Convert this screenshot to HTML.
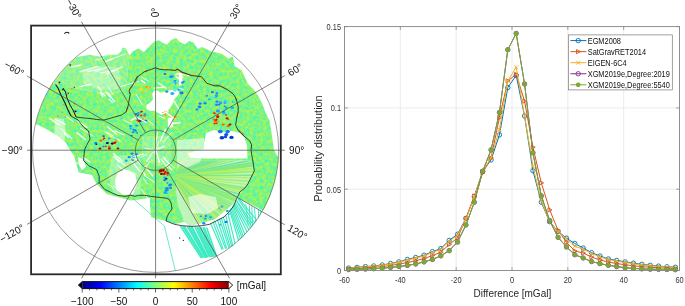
<!DOCTYPE html><html><head><meta charset="utf-8"><style>html,body{margin:0;padding:0;background:#fff;}svg{display:block;font-family:"Liberation Sans",sans-serif;filter:blur(0.3px);}</style></head><body>
<svg width="685" height="306" viewBox="0 0 685 306">
<rect width="685" height="306" fill="#fff"/>
<defs>
<filter id="nz" x="0" y="0" width="100%" height="100%" color-interpolation-filters="sRGB"><feTurbulence type="fractalNoise" baseFrequency="0.3" numOctaves="2" seed="5"/><feColorMatrix type="matrix" values="1 0 0 0 0  1 0 0 0 0  1 0 0 0 0  0 0 0 0 1"/><feComponentTransfer><feFuncR type="table" tableValues="0.100 0.120 0.140 0.160 0.180 0.200 0.220 0.240 0.260 0.280 0.300 0.320 0.340 0.360 0.380 0.400 0.420 0.440 0.460 0.480 0.500 0.520 0.540 0.560 0.580 0.600 0.620 0.640 0.660 0.680 0.700 0.720 0.740 0.760 0.780 0.800 0.820 0.840 0.860 0.880 0.900"/><feFuncG type="table" tableValues="0.960 0.960 0.960 0.960 0.960 0.960 0.960 0.960 0.960 0.960 0.960 0.960 0.960 0.960 0.960 0.960 0.960 0.960 0.960 0.960 0.960 0.960 0.960 0.960 0.960 0.960 0.960 0.960 0.960 0.960 0.960 0.960 0.960 0.960 0.960 0.960 0.960 0.960 0.960 0.960 0.960"/><feFuncB type="table" tableValues="0.900 0.880 0.860 0.840 0.820 0.800 0.780 0.760 0.740 0.720 0.700 0.680 0.660 0.640 0.620 0.600 0.580 0.560 0.540 0.520 0.500 0.480 0.460 0.440 0.420 0.400 0.380 0.360 0.340 0.320 0.300 0.280 0.260 0.240 0.220 0.200 0.180 0.160 0.140 0.120 0.100"/></feComponentTransfer></filter>
<clipPath id="circ"><ellipse cx="155.6" cy="150.3" rx="123.6" ry="122.5"/></clipPath>
<clipPath id="dat"><path d="M53.2,83.5 62.0,84.0 70.0,87.0 82.0,90.0 95.0,92.0 110.0,94.0 124.0,91.0 127.0,80.0 128.0,68.0 129.5,55.6 133.1,51.1 138.5,48.4 143.9,52.0 149.3,46.6 153.8,42.1 158.7,40.2 163.0,43.0 167.4,44.6 171.0,40.0 176.0,38.0 180.0,42.0 184.8,44.6 189.0,41.0 193.5,42.4 197.8,48.9 202.0,47.0 206.5,48.9 210.6,51.2 216.5,52.6 222.4,54.1 228.2,58.5 233.0,56.5 234.5,66.0 237.0,67.4 241.5,70.3 244.4,76.2 247.8,83.7 254.3,90.2 258.7,96.7 263.0,105.4 265.2,112.0 269.6,120.7 271.7,133.7 273.9,150.0 278.8,158.0 278.3,163.5 277.6,169.0 276.6,174.5 275.5,179.9 274.0,185.2 272.3,190.5 270.4,195.7 268.3,200.8 265.9,205.8 263.3,210.7 238.4,198.3 239.0,195.0 247.8,184.0 254.0,171.0 253.0,163.0 250.0,160.5 187.0,160.5 178.0,163.0 176.0,175.0 176.0,190.0 178.0,205.0 182.0,215.0 184.0,222.0 175.0,224.0 169.6,222.0 160.0,219.5 151.0,217.0 150.0,205.0 150.0,198.0 144.0,198.7 131.0,200.5 118.0,197.0 107.1,194.3 96.2,183.5 91.9,174.8 78.8,172.6 76.0,163.0 74.0,156.0 70.0,150.0 66.0,143.0 58.5,136.5 48.0,130.0 39.2,125.5 34.6,123.7 35.6,123.9 36.6,119.6 37.8,115.3 39.2,111.1 40.7,106.9 42.3,102.8 44.1,98.7 46.1,94.7 48.2,90.8 50.4,87.0 52.7,83.2Z M153.8,91.1 156.3,90.3 161.2,92.7 166.1,91.1 170.1,90.3 174.2,89.4 178.3,90.3 179.1,93.5 176.7,96.8 174.2,99.3 172.6,104.2 169.3,109.1 166.1,112.3 162.0,114.8 157.9,113.1 154.6,110.7 149.7,110.7 146.4,109.1 146.4,105.0 150.5,102.5 153.0,99.3 152.2,94.3Z M167.7,118.0 172.6,117.5 173.0,127.0 168.0,128.0Z M179.0,73.0 182.0,73.0 182.5,84.0 179.0,86.0Z M206.0,133.0 214.0,130.0 222.0,132.0 232.0,131.0 240.0,133.0 244.0,137.0 247.0,145.0 247.5,158.5 205.0,158.5 190.0,157.5 188.0,153.0 204.0,149.0 204.0,145.0Z M118.0,172.0 127.0,170.0 135.0,173.0 137.0,184.0 133.0,194.0 123.0,195.0 116.0,189.0 115.0,180.0Z M78.0,157.0 83.0,159.0 86.0,167.0 82.0,170.0 79.0,165.0Z" clip-rule="evenodd"/></clipPath>
<clipPath id="stk"><path d="M53.2,83.5 55.7,79.8 58.3,76.3 61.0,72.8 63.9,69.4 66.9,66.1 70.0,63.0 77.0,57.0 89.5,54.7 99.2,56.6 109.0,53.7 117.0,54.7 121.5,51.1 122.3,47.5 126.0,48.4 129.5,55.6 128.0,68.0 127.0,80.0 124.0,91.0 110.0,94.0 95.0,92.0 82.0,90.0 70.0,87.0 62.0,84.0Z"/></clipPath>
<clipPath id="fan"><path d="M178.0,163.0 187.0,160.5 250.0,160.5 253.0,163.0 254.0,171.0 247.8,184.0 239.0,195.0 233.0,204.0 226.0,210.0 215.0,219.0 202.0,223.0 190.0,226.0 184.0,222.0 182.0,215.0 178.0,205.0 176.0,190.0 176.0,175.0Z"/></clipPath>
</defs>
<g clip-path="url(#circ)">
<rect x="31" y="25" width="250" height="250" fill="#8af08a" filter="url(#nz)" clip-path="url(#dat)"/>
<rect x="31" y="25" width="250" height="250" fill="#8af08a" filter="url(#nz)" clip-path="url(#stk)" opacity="0.85"/>
<g clip-path="url(#fan)">
<rect x="170" y="145" width="90" height="85" fill="#94ee8a" opacity="0.6"/>
<line x1="172" y1="176" x2="262.0" y2="68.8" stroke="#84ec84" stroke-width="1.7"/>
<line x1="172" y1="176" x2="267.1" y2="73.2" stroke="#b4f060" stroke-width="2.1"/>
<line x1="172" y1="176" x2="271.0" y2="77.0" stroke="#98ee70" stroke-width="1.9"/>
<line x1="172" y1="176" x2="275.5" y2="81.7" stroke="#84ec84" stroke-width="1.8"/>
<line x1="172" y1="176" x2="279.8" y2="86.6" stroke="#6fe2a8" stroke-width="1.3"/>
<line x1="172" y1="176" x2="282.3" y2="89.7" stroke="#7eea82" stroke-width="1.8"/>
<line x1="172" y1="176" x2="285.7" y2="94.3" stroke="#b4f060" stroke-width="1.7"/>
<line x1="172" y1="176" x2="289.1" y2="99.3" stroke="#98ee70" stroke-width="1.9"/>
<line x1="172" y1="176" x2="292.2" y2="104.2" stroke="#7eea82" stroke-width="2.2"/>
<line x1="172" y1="176" x2="294.0" y2="107.4" stroke="#98ee70" stroke-width="1.4"/>
<line x1="172" y1="176" x2="296.8" y2="112.5" stroke="#6fe2a8" stroke-width="2.1"/>
<line x1="172" y1="176" x2="299.0" y2="117.1" stroke="#84ec84" stroke-width="2.2"/>
<line x1="172" y1="176" x2="300.8" y2="121.1" stroke="#7eea82" stroke-width="1.6"/>
<line x1="172" y1="176" x2="303.0" y2="126.6" stroke="#6fe2a8" stroke-width="1.7"/>
<line x1="172" y1="176" x2="304.7" y2="131.4" stroke="#7eea82" stroke-width="1.9"/>
<line x1="172" y1="176" x2="306.5" y2="137.3" stroke="#98ee70" stroke-width="1.6"/>
<line x1="172" y1="176" x2="307.9" y2="142.5" stroke="#84ec84" stroke-width="1.2"/>
<line x1="172" y1="176" x2="309.3" y2="148.8" stroke="#6fe2a8" stroke-width="1.7"/>
<line x1="172" y1="176" x2="310.2" y2="153.6" stroke="#7eea82" stroke-width="2.3"/>
<line x1="172" y1="176" x2="310.8" y2="157.8" stroke="#7eea82" stroke-width="2.3"/>
<line x1="172" y1="176" x2="311.4" y2="163.1" stroke="#b4f060" stroke-width="2.4"/>
<line x1="172" y1="176" x2="311.8" y2="168.1" stroke="#98ee70" stroke-width="1.9"/>
<line x1="172" y1="176" x2="312.0" y2="174.6" stroke="#7eea82" stroke-width="1.5"/>
<line x1="172" y1="176" x2="312.0" y2="179.2" stroke="#b4f060" stroke-width="1.2"/>
<line x1="172" y1="176" x2="311.7" y2="185.6" stroke="#98ee70" stroke-width="1.3"/>
<line x1="172" y1="176" x2="311.1" y2="191.7" stroke="#b4f060" stroke-width="1.2"/>
<line x1="172" y1="176" x2="310.2" y2="198.2" stroke="#84ec84" stroke-width="1.4"/>
<line x1="172" y1="176" x2="309.5" y2="202.3" stroke="#98ee70" stroke-width="1.8"/>
<line x1="172" y1="176" x2="308.5" y2="207.3" stroke="#b4f060" stroke-width="1.7"/>
<line x1="172" y1="176" x2="307.2" y2="212.2" stroke="#6fe2a8" stroke-width="1.5"/>
<line x1="172" y1="176" x2="305.3" y2="218.7" stroke="#84ec84" stroke-width="2.4"/>
<line x1="172" y1="176" x2="303.9" y2="223.1" stroke="#98ee70" stroke-width="2.3"/>
<line x1="172" y1="176" x2="302.4" y2="227.0" stroke="#84ec84" stroke-width="2.4"/>
<line x1="172" y1="176" x2="300.1" y2="232.4" stroke="#98ee70" stroke-width="1.3"/>
<line x1="172" y1="176" x2="298.3" y2="236.3" stroke="#84ec84" stroke-width="1.5"/>
<line x1="172" y1="176" x2="296.2" y2="240.5" stroke="#7eea82" stroke-width="1.6"/>
<line x1="172" y1="176" x2="294.5" y2="243.8" stroke="#98ee70" stroke-width="1.5"/>
<line x1="172" y1="176" x2="292.8" y2="246.8" stroke="#84ec84" stroke-width="1.6"/>
<line x1="172" y1="176" x2="290.1" y2="251.2" stroke="#b4f060" stroke-width="2.4"/>
<line x1="172" y1="176" x2="286.3" y2="256.8" stroke="#b4f060" stroke-width="1.4"/>
<line x1="172" y1="176" x2="283.9" y2="260.1" stroke="#98ee70" stroke-width="1.4"/>
<line x1="172" y1="176" x2="279.8" y2="265.3" stroke="#98ee70" stroke-width="1.5"/>
<line x1="172" y1="176" x2="277.2" y2="268.4" stroke="#84ec84" stroke-width="2.0"/>
<line x1="172" y1="176" x2="274.4" y2="271.5" stroke="#b4f060" stroke-width="2.3"/>
<line x1="172" y1="176" x2="270.3" y2="275.6" stroke="#7eea82" stroke-width="1.7"/>
<line x1="172" y1="176" x2="267.6" y2="278.3" stroke="#6fe2a8" stroke-width="1.8"/>
<line x1="172" y1="176" x2="264.3" y2="281.2" stroke="#6fe2a8" stroke-width="2.0"/>
<line x1="172" y1="176" x2="260.5" y2="284.5" stroke="#b4f060" stroke-width="2.3"/>
<line x1="172" y1="176" x2="256.9" y2="287.3" stroke="#7eea82" stroke-width="1.4"/>
<line x1="172" y1="176" x2="253.7" y2="289.7" stroke="#84ec84" stroke-width="1.8"/>
<line x1="172" y1="176" x2="248.9" y2="293.0" stroke="#98ee70" stroke-width="1.5"/>
<line x1="172" y1="176" x2="243.6" y2="296.3" stroke="#b4f060" stroke-width="1.3"/>
</g>
<path d="M112.0,156.0 140.0,155.0 142.0,170.0 140.0,196.0 114.0,195.0 108.0,175.0Z" fill="#fff" opacity="0.3"/>
<path d="M142.0,136.0 170.0,136.0 172.0,160.0 160.0,166.0 142.0,160.0Z" fill="#fff" opacity="0.2"/>
<path d="M177.0,140.0 204.0,138.0 206.0,150.0 200.0,162.0 186.0,168.0 177.0,163.0Z" fill="#fff" opacity="0.55"/>
<path d="M55.0,118.0 64.0,119.0 66.0,134.0 62.0,150.0 54.0,140.0Z" fill="#fff" opacity="0.5"/>
<path d="M82.0,70.0 100.0,66.0 118.0,67.0 121.0,80.0 119.0,89.0 100.0,90.0 84.0,84.0Z" fill="#fff" opacity="0.3"/>
<path d="M188.0,197.0 200.0,194.0 216.0,197.0 218.0,208.0 208.0,214.0 192.0,213.0Z" fill="#fff" opacity="0.6"/>
<line x1="180.4" y1="226.0" x2="201.3" y2="258.0" stroke="#38eac0" stroke-width="1.6" opacity="0.95"/>
<line x1="182.7" y1="226.2" x2="202.8" y2="257.8" stroke="#38eac0" stroke-width="1.6" opacity="0.95"/>
<line x1="184.3" y1="226.2" x2="203.7" y2="257.7" stroke="#38eac0" stroke-width="1.6" opacity="0.95"/>
<line x1="187.3" y1="226.4" x2="205.4" y2="257.6" stroke="#38eac0" stroke-width="1.6" opacity="0.95"/>
<line x1="188.9" y1="226.5" x2="206.3" y2="257.5" stroke="#38eac0" stroke-width="1.6" opacity="0.95"/>
<line x1="190.7" y1="226.6" x2="207.0" y2="257.4" stroke="#38eac0" stroke-width="1.6" opacity="0.95"/>
<line x1="191.9" y1="226.7" x2="208.0" y2="257.3" stroke="#38eac0" stroke-width="1.6" opacity="0.95"/>
<line x1="195.0" y1="226.8" x2="209.7" y2="257.2" stroke="#38eac0" stroke-width="1.6" opacity="0.95"/>
<line x1="197.0" y1="226.9" x2="210.3" y2="257.1" stroke="#38eac0" stroke-width="1.6" opacity="0.95"/>
<line x1="198.5" y1="227.0" x2="211.8" y2="257.0" stroke="#38eac0" stroke-width="1.6" opacity="0.95"/>
<line x1="200.6" y1="227.1" x2="212.9" y2="256.9" stroke="#38eac0" stroke-width="1.6" opacity="0.95"/>
<line x1="202.9" y1="227.3" x2="213.8" y2="256.8" stroke="#38eac0" stroke-width="1.6" opacity="0.95"/>
<line x1="204.2" y1="227.3" x2="215.5" y2="256.6" stroke="#38eac0" stroke-width="1.6" opacity="0.95"/>
<line x1="206.6" y1="227.5" x2="216.6" y2="256.5" stroke="#38eac0" stroke-width="1.6" opacity="0.95"/>
<line x1="210.4" y1="223.3" x2="222.2" y2="249.7" stroke="#38eac0" stroke-width="1.2" opacity="0.95"/>
<line x1="213.0" y1="222.0" x2="223.3" y2="249.4" stroke="#38eac0" stroke-width="1.2" opacity="0.95"/>
<line x1="214.8" y1="221.1" x2="225.6" y2="248.8" stroke="#38eac0" stroke-width="1.2" opacity="0.95"/>
<line x1="217.4" y1="219.8" x2="226.7" y2="248.5" stroke="#38eac0" stroke-width="1.2" opacity="0.95"/>
<line x1="219.5" y1="218.8" x2="228.9" y2="247.9" stroke="#38eac0" stroke-width="1.2" opacity="0.95"/>
<line x1="221.3" y1="217.8" x2="230.3" y2="247.5" stroke="#38eac0" stroke-width="1.2" opacity="0.95"/>
<line x1="223.3" y1="216.9" x2="231.9" y2="247.1" stroke="#38eac0" stroke-width="1.2" opacity="0.95"/>
<line x1="225.8" y1="215.6" x2="233.0" y2="246.8" stroke="#38eac0" stroke-width="1.2" opacity="0.95"/>
<line x1="228.1" y1="214.4" x2="235.7" y2="246.1" stroke="#38eac0" stroke-width="1.2" opacity="0.95"/>
<line x1="229.6" y1="210.1" x2="239.3" y2="243.0" stroke="#38eac0" stroke-width="1.2" opacity="0.95"/>
<line x1="230.2" y1="209.3" x2="241.3" y2="241.5" stroke="#38eac0" stroke-width="1.2" opacity="0.95"/>
<line x1="231.1" y1="208.0" x2="242.9" y2="240.3" stroke="#38eac0" stroke-width="1.2" opacity="0.95"/>
<line x1="232.1" y1="206.6" x2="244.4" y2="239.2" stroke="#38eac0" stroke-width="1.2" opacity="0.95"/>
<line x1="232.9" y1="205.5" x2="246.3" y2="237.7" stroke="#38eac0" stroke-width="1.2" opacity="0.95"/>
<line x1="233.6" y1="204.5" x2="249.0" y2="235.8" stroke="#38eac0" stroke-width="1.2" opacity="0.95"/>
<line x1="234.3" y1="203.6" x2="251.3" y2="234.0" stroke="#38eac0" stroke-width="1.2" opacity="0.95"/>
<line x1="235.2" y1="202.3" x2="253.2" y2="232.6" stroke="#38eac0" stroke-width="1.2" opacity="0.95"/>
<line x1="236.3" y1="200.7" x2="254.7" y2="231.5" stroke="#38eac0" stroke-width="1.2" opacity="0.95"/>
<line x1="236.6" y1="200.3" x2="256.7" y2="230.0" stroke="#38eac0" stroke-width="1.2" opacity="0.95"/>
<line x1="237.9" y1="198.6" x2="258.6" y2="228.6" stroke="#38eac0" stroke-width="1.2" opacity="0.95"/>
<line x1="238.4" y1="197.9" x2="261.6" y2="226.3" stroke="#38eac0" stroke-width="1.2" opacity="0.95"/>
<line x1="245.8" y1="203.8" x2="248.1" y2="225.2" stroke="#38eac0" stroke-width="1.0" opacity="0.95"/>
<line x1="249.3" y1="205.4" x2="250.4" y2="225.7" stroke="#38eac0" stroke-width="1.0" opacity="0.95"/>
<line x1="251.8" y1="206.5" x2="252.7" y2="226.1" stroke="#38eac0" stroke-width="1.0" opacity="0.95"/>
<line x1="254.4" y1="207.6" x2="256.3" y2="226.9" stroke="#38eac0" stroke-width="1.0" opacity="0.95"/>
<line x1="258.4" y1="209.4" x2="258.9" y2="227.4" stroke="#38eac0" stroke-width="1.0" opacity="0.95"/>
<line x1="260.3" y1="210.2" x2="260.9" y2="227.8" stroke="#38eac0" stroke-width="1.0" opacity="0.95"/>
<polyline points="132.8,198.5 164.4,226 175.4,271" fill="none" stroke="#48e2c4" stroke-width="0.8"/>
<polyline points="150,205.5 171,222.5" fill="none" stroke="#48e2c4" stroke-width="0.8"/>
<circle cx="179.7" cy="238" r="0.7" fill="#333"/><circle cx="183.4" cy="240.4" r="0.7" fill="#333"/>
</g>
<ellipse cx="172.3" cy="83.0" rx="1.5" ry="1.1" fill="#60e0ff"/>
<ellipse cx="183.9" cy="81.6" rx="1.2" ry="0.8" fill="#3080f0"/>
<ellipse cx="182.4" cy="82.7" rx="1.5" ry="1.1" fill="#0090ff"/>
<ellipse cx="182.6" cy="86.7" rx="1.6" ry="1.1" fill="#40d0ff"/>
<ellipse cx="172.3" cy="93.6" rx="2.0" ry="1.4" fill="#00b0ff"/>
<ellipse cx="172.4" cy="93.4" rx="1.3" ry="1.0" fill="#40a0ff"/>
<ellipse cx="166.8" cy="91.6" rx="1.6" ry="1.2" fill="#3080f0"/>
<ellipse cx="179.0" cy="89.5" rx="1.7" ry="1.2" fill="#00b0ff"/>
<ellipse cx="175.1" cy="81.4" rx="1.8" ry="1.3" fill="#0090ff"/>
<ellipse cx="181.6" cy="93.0" rx="2.0" ry="1.4" fill="#2070ff"/>
<ellipse cx="174.9" cy="90.4" rx="1.7" ry="1.2" fill="#60e0ff"/>
<ellipse cx="173.4" cy="82.2" rx="1.3" ry="0.9" fill="#60e0ff"/>
<ellipse cx="175.5" cy="83.7" rx="1.1" ry="0.8" fill="#00b0ff"/>
<ellipse cx="176.7" cy="81.5" rx="1.3" ry="0.9" fill="#60e0ff"/>
<ellipse cx="199.1" cy="107.6" rx="1.3" ry="1.0" fill="#40a0ff"/>
<ellipse cx="205.0" cy="103.3" rx="1.6" ry="1.2" fill="#0090ff"/>
<ellipse cx="196.8" cy="109.5" rx="1.5" ry="1.1" fill="#0090ff"/>
<ellipse cx="200.1" cy="103.6" rx="1.7" ry="1.2" fill="#2070ff"/>
<ellipse cx="199.4" cy="106.6" rx="1.7" ry="1.2" fill="#3080f0"/>
<ellipse cx="200.2" cy="107.2" rx="1.1" ry="0.8" fill="#2070ff"/>
<ellipse cx="217.9" cy="111.3" rx="1.7" ry="1.3" fill="#3080f0"/>
<ellipse cx="225.4" cy="109.4" rx="1.2" ry="0.8" fill="#40d0ff"/>
<ellipse cx="232.7" cy="101.9" rx="1.0" ry="0.7" fill="#00b0ff"/>
<ellipse cx="220.9" cy="103.2" rx="1.1" ry="0.8" fill="#2070ff"/>
<ellipse cx="218.0" cy="110.7" rx="1.3" ry="0.9" fill="#2070ff"/>
<ellipse cx="217.0" cy="101.7" rx="1.6" ry="1.1" fill="#0090ff"/>
<ellipse cx="223.8" cy="113.0" rx="1.7" ry="1.2" fill="#40a0ff"/>
<ellipse cx="232.3" cy="107.7" rx="1.7" ry="1.2" fill="#00b0ff"/>
<ellipse cx="226.3" cy="107.7" rx="1.5" ry="1.1" fill="#00b0ff"/>
<ellipse cx="225.1" cy="100.9" rx="1.5" ry="1.1" fill="#40d0ff"/>
<ellipse cx="216.8" cy="104.7" rx="1.7" ry="1.2" fill="#3080f0"/>
<ellipse cx="220.2" cy="102.5" rx="1.6" ry="1.2" fill="#40a0ff"/>
<ellipse cx="217.8" cy="110.5" rx="1.7" ry="1.3" fill="#40a0ff"/>
<ellipse cx="219.3" cy="104.5" rx="1.2" ry="0.9" fill="#2070ff"/>
<ellipse cx="224.6" cy="106.3" rx="0.9" ry="0.7" fill="#2070ff"/>
<ellipse cx="224.9" cy="102.8" rx="1.6" ry="1.2" fill="#40a0ff"/>
<ellipse cx="215.8" cy="97.6" rx="1.0" ry="0.7" fill="#40a0ff"/>
<ellipse cx="223.6" cy="111.7" rx="1.6" ry="1.2" fill="#00b0ff"/>
<ellipse cx="216.8" cy="119.1" rx="1.0" ry="0.7" fill="#b00000"/>
<ellipse cx="228.2" cy="126.0" rx="1.6" ry="1.2" fill="#ff6000"/>
<ellipse cx="217.7" cy="114.9" rx="1.4" ry="1.0" fill="#ff8000"/>
<ellipse cx="214.3" cy="123.7" rx="0.9" ry="0.7" fill="#e00000"/>
<ellipse cx="214.8" cy="112.2" rx="1.1" ry="0.8" fill="#ffa000"/>
<ellipse cx="218.4" cy="121.3" rx="1.0" ry="0.7" fill="#ffa000"/>
<ellipse cx="222.5" cy="124.8" rx="1.4" ry="1.0" fill="#ffa000"/>
<ellipse cx="215.6" cy="120.0" rx="1.2" ry="0.9" fill="#b00000"/>
<ellipse cx="223.4" cy="124.4" rx="1.4" ry="1.0" fill="#ff6000"/>
<ellipse cx="215.7" cy="121.5" rx="1.4" ry="1.0" fill="#ff6000"/>
<ellipse cx="215.9" cy="120.1" rx="1.3" ry="1.0" fill="#e00000"/>
<ellipse cx="216.2" cy="123.1" rx="1.5" ry="1.1" fill="#e00000"/>
<ellipse cx="217.7" cy="116.7" rx="1.6" ry="1.2" fill="#e00000"/>
<ellipse cx="226.0" cy="114.9" rx="1.0" ry="0.7" fill="#e00000"/>
<ellipse cx="214.4" cy="113.3" rx="1.2" ry="0.9" fill="#b00000"/>
<ellipse cx="227.0" cy="118.3" rx="1.5" ry="1.1" fill="#e00000"/>
<ellipse cx="215.6" cy="121.4" rx="1.5" ry="1.1" fill="#ff3000"/>
<ellipse cx="215.6" cy="122.2" rx="1.6" ry="1.2" fill="#ff8000"/>
<ellipse cx="214.1" cy="119.6" rx="1.5" ry="1.1" fill="#ff6000"/>
<ellipse cx="230.0" cy="124.5" rx="1.5" ry="1.1" fill="#b00000"/>
<ellipse cx="213.9" cy="112.6" rx="1.3" ry="0.9" fill="#ff6000"/>
<ellipse cx="228.3" cy="119.2" rx="1.0" ry="0.7" fill="#ff3000"/>
<ellipse cx="221.9" cy="137.7" rx="2.4" ry="1.8" fill="#0040d0"/>
<ellipse cx="220.3" cy="131.5" rx="2.4" ry="1.7" fill="#2070ff"/>
<ellipse cx="220.1" cy="131.8" rx="1.9" ry="1.4" fill="#2070ff"/>
<ellipse cx="226.2" cy="134.4" rx="2.1" ry="1.5" fill="#1050e0"/>
<ellipse cx="227.9" cy="131.3" rx="1.7" ry="1.2" fill="#2070ff"/>
<ellipse cx="225.4" cy="136.9" rx="1.9" ry="1.4" fill="#1050e0"/>
<ellipse cx="227.5" cy="131.8" rx="2.2" ry="1.6" fill="#2070ff"/>
<ellipse cx="231.5" cy="137.4" rx="2.2" ry="1.6" fill="#0040d0"/>
<ellipse cx="172.5" cy="75.4" rx="1.0" ry="0.8" fill="#40a0ff"/>
<ellipse cx="172.8" cy="76.8" rx="1.1" ry="0.8" fill="#2070ff"/>
<ellipse cx="170.7" cy="76.7" rx="1.6" ry="1.2" fill="#00b0ff"/>
<ellipse cx="165.2" cy="74.0" rx="1.4" ry="1.0" fill="#3080f0"/>
<ellipse cx="170.9" cy="76.6" rx="1.2" ry="0.9" fill="#0090ff"/>
<ellipse cx="164.6" cy="74.1" rx="1.3" ry="0.9" fill="#2070ff"/>
<ellipse cx="145.7" cy="120.9" rx="1.7" ry="1.2" fill="#2070ff"/>
<ellipse cx="137.8" cy="120.5" rx="1.5" ry="1.1" fill="#ff3000"/>
<ellipse cx="137.6" cy="115.7" rx="1.0" ry="0.8" fill="#0090ff"/>
<ellipse cx="139.7" cy="121.0" rx="1.4" ry="1.1" fill="#0090ff"/>
<ellipse cx="144.1" cy="120.8" rx="0.9" ry="0.7" fill="#ff6000"/>
<ellipse cx="136.3" cy="114.1" rx="1.3" ry="0.9" fill="#b00000"/>
<ellipse cx="135.6" cy="113.8" rx="1.2" ry="0.9" fill="#0090ff"/>
<ellipse cx="138.1" cy="114.5" rx="1.2" ry="0.9" fill="#b00000"/>
<ellipse cx="141.1" cy="120.7" rx="1.4" ry="1.0" fill="#0090ff"/>
<ellipse cx="142.7" cy="119.3" rx="0.9" ry="0.7" fill="#ff6000"/>
<ellipse cx="143.0" cy="120.6" rx="1.2" ry="0.9" fill="#3080f0"/>
<ellipse cx="139.6" cy="120.7" rx="1.6" ry="1.2" fill="#b00000"/>
<ellipse cx="136.7" cy="125.6" rx="1.7" ry="1.2" fill="#00b0ff"/>
<ellipse cx="133.1" cy="129.4" rx="1.2" ry="0.8" fill="#40a0ff"/>
<ellipse cx="133.1" cy="132.2" rx="1.4" ry="1.0" fill="#3080f0"/>
<ellipse cx="137.3" cy="133.2" rx="0.9" ry="0.7" fill="#0090ff"/>
<ellipse cx="136.4" cy="132.0" rx="1.2" ry="0.9" fill="#00b0ff"/>
<ellipse cx="130.6" cy="128.5" rx="1.2" ry="0.9" fill="#40a0ff"/>
<ellipse cx="140.9" cy="135.4" rx="0.9" ry="0.7" fill="#0090ff"/>
<ellipse cx="134.7" cy="130.3" rx="1.7" ry="1.3" fill="#0090ff"/>
<ellipse cx="130.5" cy="126.1" rx="1.6" ry="1.2" fill="#00b0ff"/>
<ellipse cx="131.6" cy="135.6" rx="1.1" ry="0.8" fill="#2070ff"/>
<ellipse cx="159.5" cy="172.3" rx="1.0" ry="0.7" fill="#ff3000"/>
<ellipse cx="162.2" cy="170.2" rx="1.2" ry="0.9" fill="#e00000"/>
<ellipse cx="165.0" cy="172.6" rx="1.1" ry="0.8" fill="#ff6000"/>
<ellipse cx="165.1" cy="171.9" rx="1.5" ry="1.1" fill="#e00000"/>
<ellipse cx="167.6" cy="174.9" rx="1.1" ry="0.8" fill="#ff3000"/>
<ellipse cx="163.5" cy="171.5" rx="1.3" ry="1.0" fill="#ff8000"/>
<ellipse cx="161.5" cy="173.9" rx="1.5" ry="1.1" fill="#800000"/>
<ellipse cx="164.3" cy="174.1" rx="1.5" ry="1.1" fill="#e00000"/>
<ellipse cx="167.6" cy="173.0" rx="1.5" ry="1.1" fill="#e00000"/>
<ellipse cx="166.9" cy="169.3" rx="0.9" ry="0.7" fill="#ff8000"/>
<ellipse cx="161.3" cy="169.2" rx="0.9" ry="0.7" fill="#e00000"/>
<ellipse cx="163.9" cy="169.6" rx="1.0" ry="0.7" fill="#800000"/>
<ellipse cx="160.4" cy="170.9" rx="1.7" ry="1.3" fill="#b00000"/>
<ellipse cx="163.3" cy="170.7" rx="1.2" ry="0.9" fill="#800000"/>
<ellipse cx="165.1" cy="192.5" rx="1.6" ry="1.2" fill="#00b0ff"/>
<ellipse cx="170.5" cy="187.9" rx="1.6" ry="1.1" fill="#0090ff"/>
<ellipse cx="167.6" cy="190.2" rx="1.2" ry="0.9" fill="#0090ff"/>
<ellipse cx="167.0" cy="188.4" rx="1.8" ry="1.3" fill="#3080f0"/>
<ellipse cx="166.3" cy="190.4" rx="1.6" ry="1.2" fill="#0090ff"/>
<ellipse cx="167.4" cy="183.0" rx="1.0" ry="0.7" fill="#3080f0"/>
<ellipse cx="164.6" cy="177.6" rx="1.4" ry="1.0" fill="#00b0ff"/>
<ellipse cx="170.5" cy="184.8" rx="1.6" ry="1.2" fill="#2070ff"/>
<ellipse cx="164.6" cy="180.1" rx="1.5" ry="1.1" fill="#2070ff"/>
<ellipse cx="169.6" cy="185.4" rx="1.6" ry="1.1" fill="#3080f0"/>
<ellipse cx="166.3" cy="178.7" rx="1.2" ry="0.9" fill="#000090"/>
<ellipse cx="166.6" cy="193.2" rx="1.2" ry="0.8" fill="#00b0ff"/>
<ellipse cx="109.4" cy="147.9" rx="1.7" ry="1.2" fill="#40a0ff"/>
<ellipse cx="105.8" cy="146.4" rx="1.1" ry="0.8" fill="#ff3000"/>
<ellipse cx="100.0" cy="148.6" rx="1.5" ry="1.1" fill="#b00000"/>
<ellipse cx="100.7" cy="140.7" rx="1.2" ry="0.9" fill="#ff3000"/>
<ellipse cx="112.3" cy="143.6" rx="1.6" ry="1.1" fill="#000080"/>
<ellipse cx="109.2" cy="146.4" rx="1.4" ry="1.0" fill="#ff6000"/>
<ellipse cx="109.2" cy="138.3" rx="1.5" ry="1.1" fill="#40a0ff"/>
<ellipse cx="115.9" cy="138.9" rx="0.9" ry="0.7" fill="#3080f0"/>
<ellipse cx="109.3" cy="148.6" rx="1.5" ry="1.1" fill="#e00000"/>
<ellipse cx="95.7" cy="143.1" rx="1.6" ry="1.1" fill="#0090ff"/>
<ellipse cx="103.0" cy="139.6" rx="1.0" ry="0.7" fill="#ff3000"/>
<ellipse cx="96.3" cy="144.2" rx="1.0" ry="0.7" fill="#000080"/>
<ellipse cx="116.0" cy="141.5" rx="1.5" ry="1.1" fill="#ff8000"/>
<ellipse cx="114.7" cy="142.8" rx="1.6" ry="1.1" fill="#e00000"/>
<ellipse cx="103.5" cy="146.5" rx="1.2" ry="0.9" fill="#3080f0"/>
<ellipse cx="107.3" cy="143.0" rx="1.5" ry="1.1" fill="#000080"/>
<ellipse cx="110.7" cy="136.6" rx="1.5" ry="1.1" fill="#ffff00"/>
<ellipse cx="103.4" cy="136.1" rx="1.2" ry="0.9" fill="#0090ff"/>
<ellipse cx="118.0" cy="148.5" rx="1.4" ry="1.0" fill="#b00000"/>
<ellipse cx="103.8" cy="136.1" rx="1.0" ry="0.7" fill="#e00000"/>
<ellipse cx="118.7" cy="139.2" rx="1.0" ry="0.7" fill="#ffff00"/>
<ellipse cx="104.1" cy="138.2" rx="1.1" ry="0.8" fill="#e00000"/>
<ellipse cx="67.1" cy="94.8" rx="1.1" ry="0.8" fill="#ff9000"/>
<ellipse cx="62.9" cy="89.7" rx="1.0" ry="0.7" fill="#1a1a40"/>
<ellipse cx="74.3" cy="110.1" rx="0.7" ry="0.5" fill="#ff9000"/>
<ellipse cx="74.3" cy="87.2" rx="0.7" ry="0.5" fill="#1a1a40"/>
<ellipse cx="63.8" cy="104.8" rx="1.0" ry="0.7" fill="#ff9000"/>
<ellipse cx="68.3" cy="93.2" rx="0.8" ry="0.6" fill="#303030"/>
<ellipse cx="64.6" cy="115.1" rx="1.2" ry="0.9" fill="#ffd000"/>
<ellipse cx="74.9" cy="103.6" rx="1.1" ry="0.8" fill="#ff9000"/>
<ellipse cx="73.9" cy="115.3" rx="0.8" ry="0.6" fill="#ffd000"/>
<ellipse cx="71.7" cy="89.0" rx="1.1" ry="0.8" fill="#ff9000"/>
<ellipse cx="57.9" cy="116.3" rx="1.1" ry="0.8" fill="#ff9000"/>
<ellipse cx="75.5" cy="111.4" rx="1.1" ry="0.8" fill="#000060"/>
<ellipse cx="220.7" cy="209.8" rx="0.9" ry="0.6" fill="#00b0ff"/>
<ellipse cx="228.9" cy="214.0" rx="1.1" ry="0.8" fill="#00b0ff"/>
<ellipse cx="219.0" cy="208.1" rx="1.0" ry="0.7" fill="#3080f0"/>
<ellipse cx="203.8" cy="223.2" rx="1.6" ry="1.2" fill="#0090ff"/>
<ellipse cx="220.0" cy="224.9" rx="1.1" ry="0.8" fill="#40a0ff"/>
<ellipse cx="200.7" cy="216.4" rx="1.0" ry="0.8" fill="#0090ff"/>
<ellipse cx="226.1" cy="221.9" rx="1.6" ry="1.2" fill="#2070ff"/>
<ellipse cx="210.6" cy="217.3" rx="1.3" ry="1.0" fill="#00b0ff"/>
<ellipse cx="221.9" cy="206.7" rx="1.5" ry="1.1" fill="#40a0ff"/>
<ellipse cx="227.3" cy="211.1" rx="1.6" ry="1.1" fill="#00b0ff"/>
<ellipse cx="205.4" cy="218.6" rx="1.6" ry="1.1" fill="#00b0ff"/>
<ellipse cx="205.9" cy="215.9" rx="1.3" ry="1.0" fill="#0090ff"/>
<ellipse cx="175.3" cy="118.7" rx="1.2" ry="0.8" fill="#ffe000"/>
<ellipse cx="163.1" cy="112.8" rx="1.3" ry="0.9" fill="#ffa000"/>
<ellipse cx="167.0" cy="116.2" rx="1.0" ry="0.7" fill="#ffe000"/>
<ellipse cx="171.5" cy="116.7" rx="1.6" ry="1.1" fill="#ffa000"/>
<ellipse cx="171.2" cy="110.1" rx="1.2" ry="0.9" fill="#ffe000"/>
<ellipse cx="165.3" cy="115.1" rx="1.3" ry="0.9" fill="#ffa000"/>
<ellipse cx="174.0" cy="117.6" rx="1.5" ry="1.1" fill="#ffc000"/>
<ellipse cx="166.1" cy="113.4" rx="1.4" ry="1.0" fill="#ff8000"/>
<ellipse cx="175.4" cy="116.8" rx="1.4" ry="1.0" fill="#ffa000"/>
<ellipse cx="165.6" cy="111.8" rx="1.5" ry="1.1" fill="#ff8000"/>
<ellipse cx="142.0" cy="88.2" rx="1.3" ry="0.9" fill="#ffe000"/>
<ellipse cx="142.3" cy="92.6" rx="1.0" ry="0.7" fill="#ffa000"/>
<ellipse cx="146.1" cy="87.1" rx="1.4" ry="1.0" fill="#ffa000"/>
<ellipse cx="140.3" cy="89.2" rx="1.6" ry="1.2" fill="#ffe000"/>
<ellipse cx="147.2" cy="86.8" rx="0.9" ry="0.7" fill="#ffa000"/>
<ellipse cx="143.6" cy="92.2" rx="1.2" ry="0.9" fill="#ffc000"/>
<ellipse cx="150.0" cy="87.1" rx="1.1" ry="0.8" fill="#ffa000"/>
<ellipse cx="148.7" cy="89.1" rx="1.2" ry="0.9" fill="#ffc000"/>
<ellipse cx="141.2" cy="115.4" rx="1.4" ry="1.0" fill="#ff3000"/>
<ellipse cx="144.8" cy="115.7" rx="1.5" ry="1.1" fill="#ff6000"/>
<ellipse cx="140.3" cy="112.6" rx="1.0" ry="0.8" fill="#40a0ff"/>
<ellipse cx="141.5" cy="111.6" rx="1.2" ry="0.9" fill="#b00000"/>
<ellipse cx="138.3" cy="112.8" rx="1.0" ry="0.7" fill="#3080f0"/>
<ellipse cx="137.5" cy="114.2" rx="1.1" ry="0.8" fill="#00b0ff"/>
<ellipse cx="138.5" cy="114.0" rx="1.0" ry="0.7" fill="#00b0ff"/>
<ellipse cx="144.9" cy="114.1" rx="1.5" ry="1.1" fill="#00b0ff"/>
<ellipse cx="212.4" cy="92.2" rx="1.5" ry="1.1" fill="#2070ff"/>
<ellipse cx="206.8" cy="95.8" rx="1.2" ry="0.9" fill="#3080f0"/>
<ellipse cx="209.3" cy="99.4" rx="1.2" ry="0.9" fill="#00b0ff"/>
<ellipse cx="216.5" cy="95.6" rx="1.5" ry="1.1" fill="#0090ff"/>
<ellipse cx="216.8" cy="96.3" rx="1.4" ry="1.0" fill="#40a0ff"/>
<ellipse cx="216.9" cy="93.3" rx="1.5" ry="1.1" fill="#3080f0"/>
<ellipse cx="132.0" cy="153.6" rx="1.6" ry="1.2" fill="#3080f0"/>
<ellipse cx="133.7" cy="156.7" rx="1.5" ry="1.1" fill="#3080f0"/>
<ellipse cx="136.6" cy="154.4" rx="1.4" ry="1.0" fill="#2070ff"/>
<ellipse cx="129.1" cy="157.2" rx="1.6" ry="1.1" fill="#0090ff"/>
<ellipse cx="126.2" cy="160.7" rx="1.5" ry="1.1" fill="#00b0ff"/>
<ellipse cx="132.3" cy="160.3" rx="1.6" ry="1.1" fill="#0090ff"/>
<ellipse cx="64.0" cy="114.0" rx="0.7" ry="0.5" fill="#ffc000"/>
<ellipse cx="62.4" cy="112.2" rx="0.8" ry="0.6" fill="#30a0ff"/>
<ellipse cx="65.3" cy="117.0" rx="0.8" ry="0.6" fill="#30a0ff"/>
<ellipse cx="74.4" cy="123.6" rx="0.8" ry="0.6" fill="#ffc000"/>
<ellipse cx="72.0" cy="114.1" rx="0.8" ry="0.6" fill="#ffc000"/>
<ellipse cx="75.0" cy="114.6" rx="1.1" ry="0.8" fill="#ffc000"/>
<polyline points="55.5,84.5 58,88 61,95 65,103 68,110 71,116" fill="none" stroke="#151530" stroke-width="1.1"/>
<polyline points="63,88 65.5,92 67,98 70,105 73.5,111 76,117" fill="none" stroke="#151530" stroke-width="1.0"/>
<circle cx="59.4" cy="82.5" r="0.9" fill="#222"/><circle cx="70.2" cy="65" r="1" fill="#a04000"/>
<path d="M64.3,33.6 Q66.8,31.0 69.3,33.4" fill="none" stroke="#111" stroke-width="1.1"/>
<line x1="163.5" y1="142.4" x2="171.9" y2="131.8" stroke="#fff" stroke-width="1.0" stroke-linecap="round" opacity="0.9"/>
<line x1="154.7" y1="154.0" x2="158.7" y2="141.4" stroke="#fff" stroke-width="1.0" stroke-linecap="round" opacity="0.9"/>
<line x1="156.4" y1="150.2" x2="164.0" y2="146.1" stroke="#fff" stroke-width="1.4" stroke-linecap="round" opacity="0.9"/>
<line x1="164.9" y1="159.6" x2="174.6" y2="167.8" stroke="#fff" stroke-width="1.0" stroke-linecap="round" opacity="0.9"/>
<line x1="167.2" y1="164.4" x2="171.6" y2="169.7" stroke="#fff" stroke-width="1.4" stroke-linecap="round" opacity="0.9"/>
<line x1="155.8" y1="149.7" x2="159.4" y2="162.3" stroke="#fff" stroke-width="1.5" stroke-linecap="round" opacity="0.9"/>
<line x1="161.3" y1="159.3" x2="167.3" y2="167.7" stroke="#fff" stroke-width="1.2" stroke-linecap="round" opacity="0.9"/>
<line x1="147.1" y1="154.3" x2="140.7" y2="157.2" stroke="#fff" stroke-width="0.9" stroke-linecap="round" opacity="0.9"/>
<line x1="155.9" y1="142.8" x2="157.5" y2="132.3" stroke="#fff" stroke-width="1.1" stroke-linecap="round" opacity="0.9"/>
<line x1="150.8" y1="155.5" x2="146.5" y2="161.5" stroke="#fff" stroke-width="1.1" stroke-linecap="round" opacity="0.9"/>
<line x1="158.6" y1="147.8" x2="149.8" y2="155.3" stroke="#fff" stroke-width="1.0" stroke-linecap="round" opacity="0.9"/>
<line x1="153.2" y1="149.8" x2="144.8" y2="148.1" stroke="#fff" stroke-width="0.9" stroke-linecap="round" opacity="0.9"/>
<line x1="163.4" y1="157.4" x2="168.6" y2="163.0" stroke="#fff" stroke-width="1.4" stroke-linecap="round" opacity="0.9"/>
<line x1="160.4" y1="141.0" x2="165.5" y2="129.2" stroke="#fff" stroke-width="1.4" stroke-linecap="round" opacity="0.9"/>
<line x1="143.7" y1="154.0" x2="133.5" y2="156.5" stroke="#fff" stroke-width="1.2" stroke-linecap="round" opacity="0.9"/>
<line x1="149.7" y1="161.6" x2="143.3" y2="170.8" stroke="#fff" stroke-width="1.0" stroke-linecap="round" opacity="0.9"/>
<line x1="172.7" y1="123.3" x2="180.0" y2="122.6" stroke="#fff" stroke-width="1.7" stroke-linecap="round" opacity="0.9"/>
<line x1="148.0" y1="120.4" x2="153.6" y2="125.1" stroke="#fff" stroke-width="1.0" stroke-linecap="round" opacity="0.9"/>
<line x1="176.1" y1="76.8" x2="181.3" y2="80.0" stroke="#fff" stroke-width="1.5" stroke-linecap="round" opacity="0.9"/>
<line x1="154.4" y1="88.2" x2="164.8" y2="87.2" stroke="#fff" stroke-width="1.3" stroke-linecap="round" opacity="0.9"/>
<line x1="136.2" y1="94.6" x2="142.1" y2="104.1" stroke="#fff" stroke-width="1.0" stroke-linecap="round" opacity="0.9"/>
<line x1="141.6" y1="77.1" x2="148.3" y2="81.0" stroke="#fff" stroke-width="0.9" stroke-linecap="round" opacity="0.9"/>
<line x1="180.4" y1="74.3" x2="182.9" y2="77.5" stroke="#fff" stroke-width="1.4" stroke-linecap="round" opacity="0.9"/>
<line x1="159.0" y1="93.5" x2="164.0" y2="95.4" stroke="#fff" stroke-width="1.8" stroke-linecap="round" opacity="0.9"/>
<line x1="141.3" y1="80.3" x2="144.8" y2="82.8" stroke="#fff" stroke-width="1.6" stroke-linecap="round" opacity="0.9"/>
<line x1="135.9" y1="117.1" x2="146.1" y2="122.1" stroke="#fff" stroke-width="1.4" stroke-linecap="round" opacity="0.9"/>
<line x1="131.1" y1="120.2" x2="135.2" y2="118.3" stroke="#fff" stroke-width="1.6" stroke-linecap="round" opacity="0.9"/>
<line x1="179.1" y1="88.5" x2="183.3" y2="89.5" stroke="#fff" stroke-width="1.1" stroke-linecap="round" opacity="0.9"/>
<line x1="174.2" y1="101.4" x2="179.4" y2="109.9" stroke="#fff" stroke-width="1.3" stroke-linecap="round" opacity="0.9"/>
<line x1="161.0" y1="114.1" x2="168.0" y2="111.6" stroke="#fff" stroke-width="1.5" stroke-linecap="round" opacity="0.9"/>
<line x1="158.0" y1="82.8" x2="166.1" y2="88.3" stroke="#fff" stroke-width="1.1" stroke-linecap="round" opacity="0.9"/>
<line x1="159.1" y1="115.9" x2="164.6" y2="118.4" stroke="#fff" stroke-width="1.0" stroke-linecap="round" opacity="0.9"/>
<line x1="179.0" y1="73.8" x2="189.9" y2="75.8" stroke="#fff" stroke-width="1.1" stroke-linecap="round" opacity="0.9"/>
<line x1="162.3" y1="101.5" x2="168.2" y2="107.0" stroke="#fff" stroke-width="1.5" stroke-linecap="round" opacity="0.9"/>
<line x1="175.8" y1="74.6" x2="181.0" y2="72.7" stroke="#fff" stroke-width="1.4" stroke-linecap="round" opacity="0.9"/>
<line x1="161.7" y1="109.3" x2="165.7" y2="111.3" stroke="#fff" stroke-width="1.2" stroke-linecap="round" opacity="0.9"/>
<line x1="165.7" y1="112.4" x2="174.0" y2="118.5" stroke="#fff" stroke-width="1.6" stroke-linecap="round" opacity="0.9"/>
<line x1="156.0" y1="105.5" x2="162.8" y2="107.4" stroke="#fff" stroke-width="1.0" stroke-linecap="round" opacity="0.9"/>
<line x1="106.4" y1="131.7" x2="113.4" y2="136.0" stroke="#fff" stroke-width="1.0" stroke-linecap="round" opacity="0.9"/>
<line x1="104.0" y1="131.3" x2="113.7" y2="137.9" stroke="#fff" stroke-width="0.9" stroke-linecap="round" opacity="0.9"/>
<line x1="114.5" y1="130.8" x2="123.9" y2="134.8" stroke="#fff" stroke-width="1.1" stroke-linecap="round" opacity="0.9"/>
<line x1="123.7" y1="120.0" x2="131.3" y2="124.1" stroke="#fff" stroke-width="0.9" stroke-linecap="round" opacity="0.9"/>
<line x1="107.4" y1="126.8" x2="116.6" y2="134.2" stroke="#fff" stroke-width="1.2" stroke-linecap="round" opacity="0.9"/>
<line x1="114.8" y1="137.7" x2="120.8" y2="141.5" stroke="#fff" stroke-width="0.9" stroke-linecap="round" opacity="0.9"/>
<line x1="107.2" y1="92.1" x2="111.0" y2="95.6" stroke="#fff" stroke-width="1.0" stroke-linecap="round" opacity="0.9"/>
<line x1="109.2" y1="99.2" x2="112.6" y2="102.6" stroke="#fff" stroke-width="1.2" stroke-linecap="round" opacity="0.9"/>
<line x1="109.2" y1="95.0" x2="114.6" y2="101.7" stroke="#fff" stroke-width="1.3" stroke-linecap="round" opacity="0.9"/>
<line x1="108.1" y1="86.8" x2="112.8" y2="94.1" stroke="#fff" stroke-width="0.9" stroke-linecap="round" opacity="0.9"/>
<line x1="97.8" y1="86.7" x2="101.3" y2="90.6" stroke="#fff" stroke-width="1.3" stroke-linecap="round" opacity="0.9"/>
<line x1="105.8" y1="92.1" x2="110.4" y2="97.3" stroke="#fff" stroke-width="1.3" stroke-linecap="round" opacity="0.9"/>
<line x1="100.0" y1="92.9" x2="102.9" y2="96.8" stroke="#fff" stroke-width="1.1" stroke-linecap="round" opacity="0.9"/>
<line x1="100.8" y1="92.1" x2="104.8" y2="95.6" stroke="#fff" stroke-width="1.4" stroke-linecap="round" opacity="0.9"/>
<line x1="100.3" y1="73.0" x2="114.2" y2="70.5" stroke="#fff" stroke-width="1.1" stroke-linecap="round" opacity="0.9"/>
<line x1="105.0" y1="62.0" x2="113.0" y2="58.6" stroke="#fff" stroke-width="1.2" stroke-linecap="round" opacity="0.9"/>
<line x1="108.1" y1="60.3" x2="125.1" y2="54.1" stroke="#fff" stroke-width="0.9" stroke-linecap="round" opacity="0.9"/>
<line x1="121.1" y1="86.4" x2="138.7" y2="81.4" stroke="#fff" stroke-width="1.0" stroke-linecap="round" opacity="0.9"/>
<line x1="79.7" y1="86.6" x2="91.1" y2="84.2" stroke="#fff" stroke-width="1.2" stroke-linecap="round" opacity="0.9"/>
<line x1="94.7" y1="60.3" x2="103.9" y2="57.9" stroke="#fff" stroke-width="0.9" stroke-linecap="round" opacity="0.9"/>
<line x1="87.7" y1="71.6" x2="101.6" y2="68.8" stroke="#fff" stroke-width="1.1" stroke-linecap="round" opacity="0.9"/>
<line x1="80.0" y1="71.9" x2="97.7" y2="66.4" stroke="#fff" stroke-width="1.3" stroke-linecap="round" opacity="0.9"/>
<line x1="95.5" y1="71.8" x2="108.7" y2="66.4" stroke="#fff" stroke-width="1.0" stroke-linecap="round" opacity="0.9"/>
<line x1="71.4" y1="67.1" x2="80.9" y2="65.0" stroke="#fff" stroke-width="1.3" stroke-linecap="round" opacity="0.9"/>
<line x1="107.0" y1="73.9" x2="122.6" y2="66.8" stroke="#fff" stroke-width="1.2" stroke-linecap="round" opacity="0.9"/>
<line x1="102.3" y1="55.6" x2="116.9" y2="53.5" stroke="#fff" stroke-width="1.0" stroke-linecap="round" opacity="0.9"/>
<line x1="50.8" y1="154.6" x2="62.5" y2="162.0" stroke="#fff" stroke-width="1.0" stroke-linecap="round" opacity="0.9"/>
<line x1="77.9" y1="121.1" x2="86.9" y2="127.3" stroke="#fff" stroke-width="1.5" stroke-linecap="round" opacity="0.9"/>
<line x1="56.2" y1="150.8" x2="69.5" y2="158.3" stroke="#fff" stroke-width="0.9" stroke-linecap="round" opacity="0.9"/>
<line x1="76.9" y1="132.7" x2="85.5" y2="139.8" stroke="#fff" stroke-width="1.3" stroke-linecap="round" opacity="0.9"/>
<line x1="83.0" y1="157.4" x2="90.0" y2="162.2" stroke="#fff" stroke-width="1.4" stroke-linecap="round" opacity="0.9"/>
<line x1="61.1" y1="163.1" x2="66.4" y2="168.0" stroke="#fff" stroke-width="1.4" stroke-linecap="round" opacity="0.9"/>
<line x1="80.6" y1="128.3" x2="92.8" y2="136.0" stroke="#fff" stroke-width="1.0" stroke-linecap="round" opacity="0.9"/>
<line x1="76.5" y1="162.7" x2="82.2" y2="165.5" stroke="#fff" stroke-width="1.0" stroke-linecap="round" opacity="0.9"/>
<line x1="60.6" y1="128.6" x2="71.8" y2="138.4" stroke="#fff" stroke-width="1.2" stroke-linecap="round" opacity="0.9"/>
<line x1="64.3" y1="133.6" x2="68.9" y2="137.9" stroke="#fff" stroke-width="1.3" stroke-linecap="round" opacity="0.9"/>
<line x1="55.1" y1="119.4" x2="65.4" y2="124.4" stroke="#fff" stroke-width="1.2" stroke-linecap="round" opacity="0.9"/>
<line x1="50.1" y1="118.6" x2="58.8" y2="124.5" stroke="#fff" stroke-width="1.5" stroke-linecap="round" opacity="0.9"/>
<line x1="63.2" y1="157.1" x2="70.0" y2="162.5" stroke="#fff" stroke-width="1.1" stroke-linecap="round" opacity="0.9"/>
<line x1="66.5" y1="116.5" x2="73.4" y2="121.7" stroke="#fff" stroke-width="1.0" stroke-linecap="round" opacity="0.9"/>
<line x1="54.6" y1="139.6" x2="66.1" y2="150.5" stroke="#fff" stroke-width="0.8" stroke-linecap="round" opacity="0.9"/>
<line x1="70.2" y1="160.0" x2="75.4" y2="164.3" stroke="#fff" stroke-width="1.4" stroke-linecap="round" opacity="0.9"/>
<line x1="143.2" y1="178.1" x2="147.5" y2="184.1" stroke="#fff" stroke-width="0.9" stroke-linecap="round" opacity="0.9"/>
<line x1="107.3" y1="183.7" x2="114.2" y2="188.8" stroke="#fff" stroke-width="0.9" stroke-linecap="round" opacity="0.9"/>
<line x1="113.4" y1="153.6" x2="122.0" y2="160.8" stroke="#fff" stroke-width="1.4" stroke-linecap="round" opacity="0.9"/>
<line x1="117.6" y1="165.1" x2="125.9" y2="172.3" stroke="#fff" stroke-width="1.2" stroke-linecap="round" opacity="0.9"/>
<line x1="131.7" y1="161.1" x2="140.0" y2="171.5" stroke="#fff" stroke-width="1.4" stroke-linecap="round" opacity="0.9"/>
<line x1="141.3" y1="189.2" x2="148.9" y2="199.8" stroke="#fff" stroke-width="1.0" stroke-linecap="round" opacity="0.9"/>
<line x1="142.2" y1="171.0" x2="145.7" y2="175.1" stroke="#fff" stroke-width="1.3" stroke-linecap="round" opacity="0.9"/>
<line x1="123.2" y1="168.9" x2="129.8" y2="174.5" stroke="#fff" stroke-width="1.4" stroke-linecap="round" opacity="0.9"/>
<line x1="135.0" y1="158.2" x2="140.5" y2="164.5" stroke="#fff" stroke-width="1.3" stroke-linecap="round" opacity="0.9"/>
<line x1="113.3" y1="185.6" x2="121.4" y2="191.5" stroke="#fff" stroke-width="0.9" stroke-linecap="round" opacity="0.9"/>
<line x1="144.5" y1="175.6" x2="154.2" y2="182.1" stroke="#fff" stroke-width="1.0" stroke-linecap="round" opacity="0.9"/>
<line x1="113.9" y1="156.2" x2="119.0" y2="161.9" stroke="#fff" stroke-width="1.3" stroke-linecap="round" opacity="0.9"/>
<line x1="145.1" y1="166.5" x2="152.8" y2="175.9" stroke="#fff" stroke-width="1.5" stroke-linecap="round" opacity="0.9"/>
<line x1="116.4" y1="158.8" x2="125.1" y2="165.5" stroke="#fff" stroke-width="1.1" stroke-linecap="round" opacity="0.9"/>

<line x1="244.1" y1="135.3" x2="238.5" y2="129.7" stroke="#d02000" stroke-width="1.4" opacity="0.45"/>
<line x1="236.7" y1="117.7" x2="237.9" y2="112.1" stroke="#e04010" stroke-width="1.4" opacity="0.45"/>
<line x1="238.5" y1="106.4" x2="237.0" y2="102.2" stroke="#f08020" stroke-width="1.4" opacity="0.45"/>
<line x1="236.6" y1="100.8" x2="235.4" y2="97.0" stroke="#e04010" stroke-width="1.4" opacity="0.45"/>
<line x1="232.2" y1="93.5" x2="228.4" y2="90.2" stroke="#ffb020" stroke-width="1.4" opacity="0.45"/>
<line x1="227.4" y1="89.3" x2="219.8" y2="85.3" stroke="#f08020" stroke-width="1.4" opacity="0.45"/>
<line x1="219.6" y1="85.1" x2="214.0" y2="85.4" stroke="#e04010" stroke-width="1.4" opacity="0.45"/>
<line x1="206.9" y1="83.2" x2="201.1" y2="77.5" stroke="#ffb020" stroke-width="1.4" opacity="0.45"/>
<line x1="200.9" y1="76.3" x2="191.4" y2="74.9" stroke="#f08020" stroke-width="1.4" opacity="0.45"/>
<line x1="191.2" y1="75.2" x2="180.0" y2="72.0" stroke="#d02000" stroke-width="1.4" opacity="0.45"/>
<line x1="180.9" y1="71.0" x2="177.0" y2="69.1" stroke="#d02000" stroke-width="1.4" opacity="0.45"/>
<line x1="177.4" y1="68.8" x2="175.5" y2="71.0" stroke="#e04010" stroke-width="1.4" opacity="0.45"/>
<line x1="174.2" y1="70.1" x2="169.7" y2="70.2" stroke="#f08020" stroke-width="1.4" opacity="0.45"/>
<line x1="169.1" y1="69.1" x2="165.1" y2="69.9" stroke="#ffb020" stroke-width="1.4" opacity="0.45"/>
<line x1="159.2" y1="68.5" x2="154.8" y2="68.4" stroke="#f08020" stroke-width="1.4" opacity="0.45"/>
<line x1="148.0" y1="70.7" x2="144.7" y2="71.8" stroke="#d02000" stroke-width="1.4" opacity="0.45"/>
<line x1="137.7" y1="76.3" x2="135.2" y2="82.9" stroke="#d02000" stroke-width="1.4" opacity="0.45"/>
<line x1="132.8" y1="85.1" x2="130.4" y2="89.4" stroke="#e04010" stroke-width="1.4" opacity="0.45"/>
<line x1="129.6" y1="92.1" x2="129.8" y2="93.6" stroke="#d02000" stroke-width="1.4" opacity="0.45"/>
<line x1="128.2" y1="102.3" x2="128.6" y2="106.8" stroke="#ffb020" stroke-width="1.4" opacity="0.45"/>
<line x1="127.6" y1="106.4" x2="126.4" y2="112.2" stroke="#e04010" stroke-width="1.4" opacity="0.45"/>
<polyline points="71.0,116.0 78.0,120.0 83.8,127.3 88.6,131.0 90.0,139.2 86.4,145.6 84.5,150.0 83.5,160.5 88.8,165.7 96.6,169.6 99.2,176.1 99.2,182.7 104.4,189.2 112.3,193.1 118.0,195.5 125.0,196.3 130.9,195.3 134.8,196.3 138.7,195.3 144.6,195.3 150.5,196.3 158.3,197.3 166.2,198.2 169.1,199.2 171.1,203.1 172.0,209.0 169.0,213.0 167.0,217.0 166.0,221.0 174.8,224.4 182.2,225.7 192.0,226.4 201.8,225.7 209.2,224.4 216.5,220.8 223.9,217.0 228.8,212.2 233.7,206.0 236.1,199.9 238.6,195.0 239.7,192.0 244.9,188.1 247.8,184.0 254.3,171.0 253.0,162.0 252.5,158.5 251.6,154.5 251.1,149.6 251.6,144.7 249.6,140.8 243.8,135.9 238.2,130.4 235.6,125.1 236.9,117.3 238.2,112.0 238.2,106.8 236.9,101.6 235.6,97.7 233.0,93.8 227.7,89.8 219.9,85.9 214.7,85.9 206.8,83.3 201.6,76.8 191.1,75.5 180.7,71.5 177.5,69.2 174.9,70.5 169.7,69.8 164.4,69.8 159.2,69.2 155.3,67.8 151.4,69.4 147.5,70.5 144.2,71.8 140.9,74.4 137.0,77.0 134.4,82.2 132.4,85.5 129.8,88.8 129.2,91.4 130.3,94.4 128.8,101.8 128.1,106.2 125.9,112.1 121.5,115.0 114.1,117.2 103.8,120.1 96.8,119.5 90.0,118.5 84.0,118.0 76.0,117.0" fill="none" stroke="#101414" stroke-width="0.75" stroke-linejoin="round"/>
<ellipse cx="155.6" cy="150.2" rx="123.1" ry="122.2" fill="none" stroke="#5a5a5a" stroke-width="0.6"/>
<circle cx="155.6" cy="150.2" r="20.2" fill="none" stroke="#4a4a4a" stroke-width="0.65"/>
<line x1="155.60" y1="150.20" x2="155.60" y2="278.30" stroke="#4a4a4a" stroke-width="0.7"/>
<line x1="145.50" y1="167.69" x2="81.64" y2="278.30" stroke="#4a4a4a" stroke-width="0.7"/>
<line x1="138.11" y1="160.30" x2="27.10" y2="224.39" stroke="#4a4a4a" stroke-width="0.7"/>
<line x1="155.60" y1="150.20" x2="27.10" y2="150.20" stroke="#4a4a4a" stroke-width="0.7"/>
<line x1="138.11" y1="140.10" x2="27.10" y2="76.01" stroke="#4a4a4a" stroke-width="0.7"/>
<line x1="145.50" y1="132.71" x2="81.35" y2="21.60" stroke="#4a4a4a" stroke-width="0.7"/>
<line x1="155.60" y1="150.20" x2="155.60" y2="21.60" stroke="#4a4a4a" stroke-width="0.7"/>
<line x1="165.70" y1="132.71" x2="229.85" y2="21.60" stroke="#4a4a4a" stroke-width="0.7"/>
<line x1="173.09" y1="140.10" x2="284.80" y2="75.61" stroke="#4a4a4a" stroke-width="0.7"/>
<line x1="155.60" y1="150.20" x2="284.80" y2="150.20" stroke="#4a4a4a" stroke-width="0.7"/>
<line x1="173.09" y1="160.30" x2="284.80" y2="224.79" stroke="#4a4a4a" stroke-width="0.7"/>
<line x1="165.70" y1="167.69" x2="229.56" y2="278.30" stroke="#4a4a4a" stroke-width="0.7"/>
<rect x="31.1" y="25.6" width="249.70000000000002" height="248.70000000000002" fill="none" stroke="#2a2a2a" stroke-width="1.8"/>
<text transform="translate(155.60,17.30) rotate(-90.0)" y="3.6" font-size="10" text-anchor="start" fill="#111">0°</text>
<text transform="translate(232.00,17.88) rotate(-60.0)" y="3.6" font-size="10" text-anchor="start" fill="#111">30°</text>
<text transform="translate(288.52,73.46) rotate(-30.0)" y="3.6" font-size="10" text-anchor="start" fill="#111">60°</text>
<text transform="translate(289.10,150.20) rotate(-0.0)" y="3.6" font-size="10" text-anchor="start" fill="#111">90°</text>
<text transform="translate(288.52,226.94) rotate(30.0)" y="3.6" font-size="10" text-anchor="start" fill="#111">120°</text>
<text transform="translate(79.20,17.88) rotate(60.0)" y="3.6" font-size="10" text-anchor="end" fill="#111">−30°</text>
<text transform="translate(23.38,73.86) rotate(30.0)" y="3.6" font-size="10" text-anchor="end" fill="#111">−60°</text>
<text transform="translate(22.80,150.20) rotate(0.0)" y="3.6" font-size="10" text-anchor="end" fill="#111">−90°</text>
<text transform="translate(23.38,226.54) rotate(-30.0)" y="3.6" font-size="10" text-anchor="end" fill="#111">−120°</text>
<defs><linearGradient id="jet" x1="0" x2="1" y1="0" y2="0"><stop offset="0" stop-color="#000080"/><stop offset="0.125" stop-color="#0000ff"/><stop offset="0.375" stop-color="#00ffff"/><stop offset="0.625" stop-color="#ffff00"/><stop offset="0.875" stop-color="#ff0000"/><stop offset="1" stop-color="#800000"/></linearGradient></defs>
<rect x="82.2" y="281.6" width="146.70" height="7.0" fill="url(#jet)"/>
<path d="M82.2,281.6 L78.40,285.10 L82.2,288.6Z" fill="#000"/>
<path d="M228.9,281.6 L232.70,285.10 L228.9,288.6Z" fill="#fff"/>
<path d="M82.2,281.6 L228.9,281.6 L232.70,285.10 L228.9,288.6 L82.2,288.6 L78.40,285.10Z" fill="none" stroke="#000" stroke-width="0.9"/>
<line x1="82.20" y1="288.6" x2="82.20" y2="292.6" stroke="#000" stroke-width="0.6"/>
<text x="82.20" y="305" font-size="10" text-anchor="middle" fill="#111">−100</text>
<line x1="89.53" y1="288.6" x2="89.53" y2="290.40000000000003" stroke="#000" stroke-width="0.6"/>
<line x1="96.87" y1="288.6" x2="96.87" y2="290.40000000000003" stroke="#000" stroke-width="0.6"/>
<line x1="104.20" y1="288.6" x2="104.20" y2="290.40000000000003" stroke="#000" stroke-width="0.6"/>
<line x1="111.54" y1="288.6" x2="111.54" y2="290.40000000000003" stroke="#000" stroke-width="0.6"/>
<line x1="118.88" y1="288.6" x2="118.88" y2="292.6" stroke="#000" stroke-width="0.6"/>
<text x="118.88" y="305" font-size="10" text-anchor="middle" fill="#111">−50</text>
<line x1="126.21" y1="288.6" x2="126.21" y2="290.40000000000003" stroke="#000" stroke-width="0.6"/>
<line x1="133.54" y1="288.6" x2="133.54" y2="290.40000000000003" stroke="#000" stroke-width="0.6"/>
<line x1="140.88" y1="288.6" x2="140.88" y2="290.40000000000003" stroke="#000" stroke-width="0.6"/>
<line x1="148.22" y1="288.6" x2="148.22" y2="290.40000000000003" stroke="#000" stroke-width="0.6"/>
<line x1="155.55" y1="288.6" x2="155.55" y2="292.6" stroke="#000" stroke-width="0.6"/>
<text x="155.55" y="305" font-size="10" text-anchor="middle" fill="#111">0</text>
<line x1="162.88" y1="288.6" x2="162.88" y2="290.40000000000003" stroke="#000" stroke-width="0.6"/>
<line x1="170.22" y1="288.6" x2="170.22" y2="290.40000000000003" stroke="#000" stroke-width="0.6"/>
<line x1="177.56" y1="288.6" x2="177.56" y2="290.40000000000003" stroke="#000" stroke-width="0.6"/>
<line x1="184.89" y1="288.6" x2="184.89" y2="290.40000000000003" stroke="#000" stroke-width="0.6"/>
<line x1="192.22" y1="288.6" x2="192.22" y2="292.6" stroke="#000" stroke-width="0.6"/>
<text x="192.22" y="305" font-size="10" text-anchor="middle" fill="#111">50</text>
<line x1="199.56" y1="288.6" x2="199.56" y2="290.40000000000003" stroke="#000" stroke-width="0.6"/>
<line x1="206.89" y1="288.6" x2="206.89" y2="290.40000000000003" stroke="#000" stroke-width="0.6"/>
<line x1="214.23" y1="288.6" x2="214.23" y2="290.40000000000003" stroke="#000" stroke-width="0.6"/>
<line x1="221.56" y1="288.6" x2="221.56" y2="290.40000000000003" stroke="#000" stroke-width="0.6"/>
<line x1="228.90" y1="288.6" x2="228.90" y2="292.6" stroke="#000" stroke-width="0.6"/>
<text x="228.90" y="305" font-size="10" text-anchor="middle" fill="#111">100</text>
<text x="236.7" y="289.3" font-size="10" fill="#111">[mGal]</text>
<line x1="400.33" y1="26.6" x2="400.33" y2="270.5" stroke="#e6e6e6" stroke-width="0.8"/>
<line x1="456.17" y1="26.6" x2="456.17" y2="270.5" stroke="#e6e6e6" stroke-width="0.8"/>
<line x1="512.00" y1="26.6" x2="512.00" y2="270.5" stroke="#e6e6e6" stroke-width="0.8"/>
<line x1="567.83" y1="26.6" x2="567.83" y2="270.5" stroke="#e6e6e6" stroke-width="0.8"/>
<line x1="623.67" y1="26.6" x2="623.67" y2="270.5" stroke="#e6e6e6" stroke-width="0.8"/>
<line x1="344.5" y1="189.20" x2="679.5" y2="189.20" stroke="#e6e6e6" stroke-width="0.8"/>
<line x1="344.5" y1="107.90" x2="679.5" y2="107.90" stroke="#e6e6e6" stroke-width="0.8"/>
<polyline points="348.69,268.06 357.06,267.41 365.44,266.60 373.81,265.95 382.19,264.97 390.56,263.51 398.94,261.88 407.31,259.44 415.69,257.49 424.06,255.22 432.44,251.64 440.81,248.55 449.19,240.42 457.56,234.24 465.94,218.47 474.31,196.52 482.69,171.31 491.06,159.93 499.44,134.89 507.81,87.57 516.19,75.38 524.56,116.03 532.94,170.66 541.31,202.21 549.69,221.72 558.06,231.48 566.44,238.14 574.81,243.51 583.19,248.06 591.56,252.61 599.94,256.03 608.31,258.96 616.69,260.42 625.06,261.88 633.44,263.18 641.81,264.32 650.19,265.30 658.56,266.11 666.94,266.76 675.31,267.25" fill="none" stroke="#0072BD" stroke-width="1"/>
<circle cx="348.69" cy="268.06" r="2.2" fill="none" stroke="#0072BD" stroke-width="0.9"/>
<circle cx="357.06" cy="267.41" r="2.2" fill="none" stroke="#0072BD" stroke-width="0.9"/>
<circle cx="365.44" cy="266.60" r="2.2" fill="none" stroke="#0072BD" stroke-width="0.9"/>
<circle cx="373.81" cy="265.95" r="2.2" fill="none" stroke="#0072BD" stroke-width="0.9"/>
<circle cx="382.19" cy="264.97" r="2.2" fill="none" stroke="#0072BD" stroke-width="0.9"/>
<circle cx="390.56" cy="263.51" r="2.2" fill="none" stroke="#0072BD" stroke-width="0.9"/>
<circle cx="398.94" cy="261.88" r="2.2" fill="none" stroke="#0072BD" stroke-width="0.9"/>
<circle cx="407.31" cy="259.44" r="2.2" fill="none" stroke="#0072BD" stroke-width="0.9"/>
<circle cx="415.69" cy="257.49" r="2.2" fill="none" stroke="#0072BD" stroke-width="0.9"/>
<circle cx="424.06" cy="255.22" r="2.2" fill="none" stroke="#0072BD" stroke-width="0.9"/>
<circle cx="432.44" cy="251.64" r="2.2" fill="none" stroke="#0072BD" stroke-width="0.9"/>
<circle cx="440.81" cy="248.55" r="2.2" fill="none" stroke="#0072BD" stroke-width="0.9"/>
<circle cx="449.19" cy="240.42" r="2.2" fill="none" stroke="#0072BD" stroke-width="0.9"/>
<circle cx="457.56" cy="234.24" r="2.2" fill="none" stroke="#0072BD" stroke-width="0.9"/>
<circle cx="465.94" cy="218.47" r="2.2" fill="none" stroke="#0072BD" stroke-width="0.9"/>
<circle cx="474.31" cy="196.52" r="2.2" fill="none" stroke="#0072BD" stroke-width="0.9"/>
<circle cx="482.69" cy="171.31" r="2.2" fill="none" stroke="#0072BD" stroke-width="0.9"/>
<circle cx="491.06" cy="159.93" r="2.2" fill="none" stroke="#0072BD" stroke-width="0.9"/>
<circle cx="499.44" cy="134.89" r="2.2" fill="none" stroke="#0072BD" stroke-width="0.9"/>
<circle cx="507.81" cy="87.57" r="2.2" fill="none" stroke="#0072BD" stroke-width="0.9"/>
<circle cx="516.19" cy="75.38" r="2.2" fill="none" stroke="#0072BD" stroke-width="0.9"/>
<circle cx="524.56" cy="116.03" r="2.2" fill="none" stroke="#0072BD" stroke-width="0.9"/>
<circle cx="532.94" cy="170.66" r="2.2" fill="none" stroke="#0072BD" stroke-width="0.9"/>
<circle cx="541.31" cy="202.21" r="2.2" fill="none" stroke="#0072BD" stroke-width="0.9"/>
<circle cx="549.69" cy="221.72" r="2.2" fill="none" stroke="#0072BD" stroke-width="0.9"/>
<circle cx="558.06" cy="231.48" r="2.2" fill="none" stroke="#0072BD" stroke-width="0.9"/>
<circle cx="566.44" cy="238.14" r="2.2" fill="none" stroke="#0072BD" stroke-width="0.9"/>
<circle cx="574.81" cy="243.51" r="2.2" fill="none" stroke="#0072BD" stroke-width="0.9"/>
<circle cx="583.19" cy="248.06" r="2.2" fill="none" stroke="#0072BD" stroke-width="0.9"/>
<circle cx="591.56" cy="252.61" r="2.2" fill="none" stroke="#0072BD" stroke-width="0.9"/>
<circle cx="599.94" cy="256.03" r="2.2" fill="none" stroke="#0072BD" stroke-width="0.9"/>
<circle cx="608.31" cy="258.96" r="2.2" fill="none" stroke="#0072BD" stroke-width="0.9"/>
<circle cx="616.69" cy="260.42" r="2.2" fill="none" stroke="#0072BD" stroke-width="0.9"/>
<circle cx="625.06" cy="261.88" r="2.2" fill="none" stroke="#0072BD" stroke-width="0.9"/>
<circle cx="633.44" cy="263.18" r="2.2" fill="none" stroke="#0072BD" stroke-width="0.9"/>
<circle cx="641.81" cy="264.32" r="2.2" fill="none" stroke="#0072BD" stroke-width="0.9"/>
<circle cx="650.19" cy="265.30" r="2.2" fill="none" stroke="#0072BD" stroke-width="0.9"/>
<circle cx="658.56" cy="266.11" r="2.2" fill="none" stroke="#0072BD" stroke-width="0.9"/>
<circle cx="666.94" cy="266.76" r="2.2" fill="none" stroke="#0072BD" stroke-width="0.9"/>
<circle cx="675.31" cy="267.25" r="2.2" fill="none" stroke="#0072BD" stroke-width="0.9"/>
<polyline points="348.69,268.79 357.06,268.39 365.44,267.82 373.81,267.33 382.19,266.60 390.56,265.46 398.94,264.16 407.31,262.45 415.69,260.74 424.06,258.55 432.44,255.54 440.81,252.21 449.19,244.48 457.56,237.98 465.94,218.47 474.31,196.03 482.69,172.94 491.06,157.98 499.44,117.66 507.81,80.91 516.19,74.40 524.56,101.07 532.94,147.25 541.31,182.86 549.69,209.85 558.06,230.34 566.44,242.21 574.81,250.99 583.19,253.02 591.56,257.09 599.94,259.85 608.31,262.13 616.69,263.51 625.06,264.81 633.44,265.78 641.81,266.60 650.19,267.25 658.56,267.74 666.94,268.14 675.31,268.47" fill="none" stroke="#D95319" stroke-width="1"/>
<path d="M346.99,266.69L350.99,268.79L346.99,270.89Z" fill="none" stroke="#D95319" stroke-width="0.9"/>
<path d="M355.36,266.29L359.36,268.39L355.36,270.49Z" fill="none" stroke="#D95319" stroke-width="0.9"/>
<path d="M363.74,265.72L367.74,267.82L363.74,269.92Z" fill="none" stroke="#D95319" stroke-width="0.9"/>
<path d="M372.11,265.23L376.11,267.33L372.11,269.43Z" fill="none" stroke="#D95319" stroke-width="0.9"/>
<path d="M380.49,264.50L384.49,266.60L380.49,268.70Z" fill="none" stroke="#D95319" stroke-width="0.9"/>
<path d="M388.86,263.36L392.86,265.46L388.86,267.56Z" fill="none" stroke="#D95319" stroke-width="0.9"/>
<path d="M397.24,262.06L401.24,264.16L397.24,266.26Z" fill="none" stroke="#D95319" stroke-width="0.9"/>
<path d="M405.61,260.35L409.61,262.45L405.61,264.55Z" fill="none" stroke="#D95319" stroke-width="0.9"/>
<path d="M413.99,258.64L417.99,260.74L413.99,262.84Z" fill="none" stroke="#D95319" stroke-width="0.9"/>
<path d="M422.36,256.45L426.36,258.55L422.36,260.65Z" fill="none" stroke="#D95319" stroke-width="0.9"/>
<path d="M430.74,253.44L434.74,255.54L430.74,257.64Z" fill="none" stroke="#D95319" stroke-width="0.9"/>
<path d="M439.11,250.11L443.11,252.21L439.11,254.31Z" fill="none" stroke="#D95319" stroke-width="0.9"/>
<path d="M447.49,242.38L451.49,244.48L447.49,246.58Z" fill="none" stroke="#D95319" stroke-width="0.9"/>
<path d="M455.86,235.88L459.86,237.98L455.86,240.08Z" fill="none" stroke="#D95319" stroke-width="0.9"/>
<path d="M464.24,216.37L468.24,218.47L464.24,220.57Z" fill="none" stroke="#D95319" stroke-width="0.9"/>
<path d="M472.61,193.93L476.61,196.03L472.61,198.13Z" fill="none" stroke="#D95319" stroke-width="0.9"/>
<path d="M480.99,170.84L484.99,172.94L480.99,175.04Z" fill="none" stroke="#D95319" stroke-width="0.9"/>
<path d="M489.36,155.88L493.36,157.98L489.36,160.08Z" fill="none" stroke="#D95319" stroke-width="0.9"/>
<path d="M497.74,115.56L501.74,117.66L497.74,119.76Z" fill="none" stroke="#D95319" stroke-width="0.9"/>
<path d="M506.11,78.81L510.11,80.91L506.11,83.01Z" fill="none" stroke="#D95319" stroke-width="0.9"/>
<path d="M514.49,72.30L518.49,74.40L514.49,76.50Z" fill="none" stroke="#D95319" stroke-width="0.9"/>
<path d="M522.86,98.97L526.86,101.07L522.86,103.17Z" fill="none" stroke="#D95319" stroke-width="0.9"/>
<path d="M531.24,145.15L535.24,147.25L531.24,149.35Z" fill="none" stroke="#D95319" stroke-width="0.9"/>
<path d="M539.61,180.76L543.61,182.86L539.61,184.96Z" fill="none" stroke="#D95319" stroke-width="0.9"/>
<path d="M547.99,207.75L551.99,209.85L547.99,211.95Z" fill="none" stroke="#D95319" stroke-width="0.9"/>
<path d="M556.36,228.24L560.36,230.34L556.36,232.44Z" fill="none" stroke="#D95319" stroke-width="0.9"/>
<path d="M564.74,240.11L568.74,242.21L564.74,244.31Z" fill="none" stroke="#D95319" stroke-width="0.9"/>
<path d="M573.11,248.89L577.11,250.99L573.11,253.09Z" fill="none" stroke="#D95319" stroke-width="0.9"/>
<path d="M581.49,250.92L585.49,253.02L581.49,255.12Z" fill="none" stroke="#D95319" stroke-width="0.9"/>
<path d="M589.86,254.99L593.86,257.09L589.86,259.19Z" fill="none" stroke="#D95319" stroke-width="0.9"/>
<path d="M598.24,257.75L602.24,259.85L598.24,261.95Z" fill="none" stroke="#D95319" stroke-width="0.9"/>
<path d="M606.61,260.03L610.61,262.13L606.61,264.23Z" fill="none" stroke="#D95319" stroke-width="0.9"/>
<path d="M614.99,261.41L618.99,263.51L614.99,265.61Z" fill="none" stroke="#D95319" stroke-width="0.9"/>
<path d="M623.36,262.71L627.36,264.81L623.36,266.91Z" fill="none" stroke="#D95319" stroke-width="0.9"/>
<path d="M631.74,263.68L635.74,265.78L631.74,267.88Z" fill="none" stroke="#D95319" stroke-width="0.9"/>
<path d="M640.11,264.50L644.11,266.60L640.11,268.70Z" fill="none" stroke="#D95319" stroke-width="0.9"/>
<path d="M648.49,265.15L652.49,267.25L648.49,269.35Z" fill="none" stroke="#D95319" stroke-width="0.9"/>
<path d="M656.86,265.64L660.86,267.74L656.86,269.84Z" fill="none" stroke="#D95319" stroke-width="0.9"/>
<path d="M665.24,266.04L669.24,268.14L665.24,270.24Z" fill="none" stroke="#D95319" stroke-width="0.9"/>
<path d="M673.61,266.37L677.61,268.47L673.61,270.57Z" fill="none" stroke="#D95319" stroke-width="0.9"/>
<polyline points="348.69,268.21 357.06,267.61 365.44,266.84 373.81,266.22 382.19,265.30 390.56,263.90 398.94,262.34 407.31,260.04 415.69,258.14 424.06,255.88 432.44,252.42 440.81,249.28 449.19,241.44 457.56,235.02 465.94,219.12 474.31,197.09 482.69,171.31 491.06,157.82 499.44,129.36 507.81,80.91 516.19,67.25 524.56,116.03 532.94,166.27 541.31,201.07 549.69,221.61 558.06,232.06 566.44,238.79 574.81,246.11 583.19,249.05 591.56,253.51 599.94,256.79 608.31,259.59 616.69,261.04 625.06,262.47 633.44,263.70 641.81,264.78 650.19,265.69 658.56,266.44 666.94,267.04 675.31,267.49" fill="none" stroke="#EDB120" stroke-width="1"/>
<path d="M346.69,266.21L350.69,270.21M346.69,270.21L350.69,266.21" stroke="#EDB120" stroke-width="0.9"/>
<path d="M355.06,265.61L359.06,269.61M355.06,269.61L359.06,265.61" stroke="#EDB120" stroke-width="0.9"/>
<path d="M363.44,264.84L367.44,268.84M363.44,268.84L367.44,264.84" stroke="#EDB120" stroke-width="0.9"/>
<path d="M371.81,264.22L375.81,268.22M371.81,268.22L375.81,264.22" stroke="#EDB120" stroke-width="0.9"/>
<path d="M380.19,263.30L384.19,267.30M380.19,267.30L384.19,263.30" stroke="#EDB120" stroke-width="0.9"/>
<path d="M388.56,261.90L392.56,265.90M388.56,265.90L392.56,261.90" stroke="#EDB120" stroke-width="0.9"/>
<path d="M396.94,260.34L400.94,264.34M396.94,264.34L400.94,260.34" stroke="#EDB120" stroke-width="0.9"/>
<path d="M405.31,258.04L409.31,262.04M405.31,262.04L409.31,258.04" stroke="#EDB120" stroke-width="0.9"/>
<path d="M413.69,256.14L417.69,260.14M413.69,260.14L417.69,256.14" stroke="#EDB120" stroke-width="0.9"/>
<path d="M422.06,253.88L426.06,257.88M422.06,257.88L426.06,253.88" stroke="#EDB120" stroke-width="0.9"/>
<path d="M430.44,250.42L434.44,254.42M430.44,254.42L434.44,250.42" stroke="#EDB120" stroke-width="0.9"/>
<path d="M438.81,247.28L442.81,251.28M438.81,251.28L442.81,247.28" stroke="#EDB120" stroke-width="0.9"/>
<path d="M447.19,239.44L451.19,243.44M447.19,243.44L451.19,239.44" stroke="#EDB120" stroke-width="0.9"/>
<path d="M455.56,233.02L459.56,237.02M455.56,237.02L459.56,233.02" stroke="#EDB120" stroke-width="0.9"/>
<path d="M463.94,217.12L467.94,221.12M463.94,221.12L467.94,217.12" stroke="#EDB120" stroke-width="0.9"/>
<path d="M472.31,195.09L476.31,199.09M472.31,199.09L476.31,195.09" stroke="#EDB120" stroke-width="0.9"/>
<path d="M480.69,169.31L484.69,173.31M480.69,173.31L484.69,169.31" stroke="#EDB120" stroke-width="0.9"/>
<path d="M489.06,155.82L493.06,159.82M489.06,159.82L493.06,155.82" stroke="#EDB120" stroke-width="0.9"/>
<path d="M497.44,127.36L501.44,131.36M497.44,131.36L501.44,127.36" stroke="#EDB120" stroke-width="0.9"/>
<path d="M505.81,78.91L509.81,82.91M505.81,82.91L509.81,78.91" stroke="#EDB120" stroke-width="0.9"/>
<path d="M514.19,65.25L518.19,69.25M514.19,69.25L518.19,65.25" stroke="#EDB120" stroke-width="0.9"/>
<path d="M522.56,114.03L526.56,118.03M522.56,118.03L526.56,114.03" stroke="#EDB120" stroke-width="0.9"/>
<path d="M530.94,164.27L534.94,168.27M530.94,168.27L534.94,164.27" stroke="#EDB120" stroke-width="0.9"/>
<path d="M539.31,199.07L543.31,203.07M539.31,203.07L543.31,199.07" stroke="#EDB120" stroke-width="0.9"/>
<path d="M547.69,219.61L551.69,223.61M547.69,223.61L551.69,219.61" stroke="#EDB120" stroke-width="0.9"/>
<path d="M556.06,230.06L560.06,234.06M556.06,234.06L560.06,230.06" stroke="#EDB120" stroke-width="0.9"/>
<path d="M564.44,236.79L568.44,240.79M564.44,240.79L568.44,236.79" stroke="#EDB120" stroke-width="0.9"/>
<path d="M572.81,244.11L576.81,248.11M572.81,248.11L576.81,244.11" stroke="#EDB120" stroke-width="0.9"/>
<path d="M581.19,247.05L585.19,251.05M581.19,251.05L585.19,247.05" stroke="#EDB120" stroke-width="0.9"/>
<path d="M589.56,251.51L593.56,255.51M589.56,255.51L593.56,251.51" stroke="#EDB120" stroke-width="0.9"/>
<path d="M597.94,254.79L601.94,258.79M597.94,258.79L601.94,254.79" stroke="#EDB120" stroke-width="0.9"/>
<path d="M606.31,257.59L610.31,261.59M606.31,261.59L610.31,257.59" stroke="#EDB120" stroke-width="0.9"/>
<path d="M614.69,259.04L618.69,263.04M614.69,263.04L618.69,259.04" stroke="#EDB120" stroke-width="0.9"/>
<path d="M623.06,260.47L627.06,264.47M623.06,264.47L627.06,260.47" stroke="#EDB120" stroke-width="0.9"/>
<path d="M631.44,261.70L635.44,265.70M631.44,265.70L635.44,261.70" stroke="#EDB120" stroke-width="0.9"/>
<path d="M639.81,262.78L643.81,266.78M639.81,266.78L643.81,262.78" stroke="#EDB120" stroke-width="0.9"/>
<path d="M648.19,263.69L652.19,267.69M648.19,267.69L652.19,263.69" stroke="#EDB120" stroke-width="0.9"/>
<path d="M656.56,264.44L660.56,268.44M656.56,268.44L660.56,264.44" stroke="#EDB120" stroke-width="0.9"/>
<path d="M664.94,265.04L668.94,269.04M664.94,269.04L668.94,265.04" stroke="#EDB120" stroke-width="0.9"/>
<path d="M673.31,265.49L677.31,269.49M673.31,269.49L677.31,265.49" stroke="#EDB120" stroke-width="0.9"/>
<polyline points="348.69,269.52 357.06,269.36 365.44,269.04 373.81,268.71 382.19,268.22 390.56,267.41 398.94,266.44 407.31,265.46 415.69,264.00 424.06,261.88 432.44,259.44 440.81,255.87 449.19,250.66 457.56,242.04 465.94,224.97 474.31,202.21 482.69,171.31 491.06,149.85 499.44,112.45 507.81,49.69 516.19,33.43 524.56,84.00 532.94,152.78 541.31,195.87 549.69,220.58 558.06,237.33 566.44,246.92 574.81,254.73 583.19,257.98 591.56,261.56 599.94,263.67 608.31,265.30 616.69,266.60 625.06,267.74 633.44,268.39 641.81,268.87 650.19,269.20 658.56,269.36 666.94,269.52 675.31,269.69" fill="none" stroke="#7E2F8E" stroke-width="1"/>
<circle cx="348.69" cy="269.52" r="2.2" fill="none" stroke="#7E2F8E" stroke-width="0.9"/>
<circle cx="357.06" cy="269.36" r="2.2" fill="none" stroke="#7E2F8E" stroke-width="0.9"/>
<circle cx="365.44" cy="269.04" r="2.2" fill="none" stroke="#7E2F8E" stroke-width="0.9"/>
<circle cx="373.81" cy="268.71" r="2.2" fill="none" stroke="#7E2F8E" stroke-width="0.9"/>
<circle cx="382.19" cy="268.22" r="2.2" fill="none" stroke="#7E2F8E" stroke-width="0.9"/>
<circle cx="390.56" cy="267.41" r="2.2" fill="none" stroke="#7E2F8E" stroke-width="0.9"/>
<circle cx="398.94" cy="266.44" r="2.2" fill="none" stroke="#7E2F8E" stroke-width="0.9"/>
<circle cx="407.31" cy="265.46" r="2.2" fill="none" stroke="#7E2F8E" stroke-width="0.9"/>
<circle cx="415.69" cy="264.00" r="2.2" fill="none" stroke="#7E2F8E" stroke-width="0.9"/>
<circle cx="424.06" cy="261.88" r="2.2" fill="none" stroke="#7E2F8E" stroke-width="0.9"/>
<circle cx="432.44" cy="259.44" r="2.2" fill="none" stroke="#7E2F8E" stroke-width="0.9"/>
<circle cx="440.81" cy="255.87" r="2.2" fill="none" stroke="#7E2F8E" stroke-width="0.9"/>
<circle cx="449.19" cy="250.66" r="2.2" fill="none" stroke="#7E2F8E" stroke-width="0.9"/>
<circle cx="457.56" cy="242.04" r="2.2" fill="none" stroke="#7E2F8E" stroke-width="0.9"/>
<circle cx="465.94" cy="224.97" r="2.2" fill="none" stroke="#7E2F8E" stroke-width="0.9"/>
<circle cx="474.31" cy="202.21" r="2.2" fill="none" stroke="#7E2F8E" stroke-width="0.9"/>
<circle cx="482.69" cy="171.31" r="2.2" fill="none" stroke="#7E2F8E" stroke-width="0.9"/>
<circle cx="491.06" cy="149.85" r="2.2" fill="none" stroke="#7E2F8E" stroke-width="0.9"/>
<circle cx="499.44" cy="112.45" r="2.2" fill="none" stroke="#7E2F8E" stroke-width="0.9"/>
<circle cx="507.81" cy="49.69" r="2.2" fill="none" stroke="#7E2F8E" stroke-width="0.9"/>
<circle cx="516.19" cy="33.43" r="2.2" fill="none" stroke="#7E2F8E" stroke-width="0.9"/>
<circle cx="524.56" cy="84.00" r="2.2" fill="none" stroke="#7E2F8E" stroke-width="0.9"/>
<circle cx="532.94" cy="152.78" r="2.2" fill="none" stroke="#7E2F8E" stroke-width="0.9"/>
<circle cx="541.31" cy="195.87" r="2.2" fill="none" stroke="#7E2F8E" stroke-width="0.9"/>
<circle cx="549.69" cy="220.58" r="2.2" fill="none" stroke="#7E2F8E" stroke-width="0.9"/>
<circle cx="558.06" cy="237.33" r="2.2" fill="none" stroke="#7E2F8E" stroke-width="0.9"/>
<circle cx="566.44" cy="246.92" r="2.2" fill="none" stroke="#7E2F8E" stroke-width="0.9"/>
<circle cx="574.81" cy="254.73" r="2.2" fill="none" stroke="#7E2F8E" stroke-width="0.9"/>
<circle cx="583.19" cy="257.98" r="2.2" fill="none" stroke="#7E2F8E" stroke-width="0.9"/>
<circle cx="591.56" cy="261.56" r="2.2" fill="none" stroke="#7E2F8E" stroke-width="0.9"/>
<circle cx="599.94" cy="263.67" r="2.2" fill="none" stroke="#7E2F8E" stroke-width="0.9"/>
<circle cx="608.31" cy="265.30" r="2.2" fill="none" stroke="#7E2F8E" stroke-width="0.9"/>
<circle cx="616.69" cy="266.60" r="2.2" fill="none" stroke="#7E2F8E" stroke-width="0.9"/>
<circle cx="625.06" cy="267.74" r="2.2" fill="none" stroke="#7E2F8E" stroke-width="0.9"/>
<circle cx="633.44" cy="268.39" r="2.2" fill="none" stroke="#7E2F8E" stroke-width="0.9"/>
<circle cx="641.81" cy="268.87" r="2.2" fill="none" stroke="#7E2F8E" stroke-width="0.9"/>
<circle cx="650.19" cy="269.20" r="2.2" fill="none" stroke="#7E2F8E" stroke-width="0.9"/>
<circle cx="658.56" cy="269.36" r="2.2" fill="none" stroke="#7E2F8E" stroke-width="0.9"/>
<circle cx="666.94" cy="269.52" r="2.2" fill="none" stroke="#7E2F8E" stroke-width="0.9"/>
<circle cx="675.31" cy="269.69" r="2.2" fill="none" stroke="#7E2F8E" stroke-width="0.9"/>
<polyline points="348.69,269.52 357.06,269.36 365.44,269.04 373.81,268.71 382.19,268.22 390.56,267.41 398.94,266.44 407.31,265.46 415.69,264.00 424.06,261.88 432.44,259.44 440.81,255.87 449.19,250.66 457.56,242.04 465.94,224.97 474.31,202.21 482.69,171.31 491.06,149.85 499.44,112.45 507.81,49.69 516.19,33.43 524.56,84.00 532.94,152.78 541.31,195.87 549.69,220.58 558.06,237.33 566.44,246.92 574.81,254.73 583.19,257.98 591.56,261.56 599.94,263.67 608.31,265.30 616.69,266.60 625.06,267.74 633.44,268.39 641.81,268.87 650.19,269.20 658.56,269.36 666.94,269.52 675.31,269.69" fill="none" stroke="#77AC30" stroke-width="1"/>
<circle cx="348.69" cy="269.52" r="2.35" fill="#77AC30"/>
<circle cx="357.06" cy="269.36" r="2.35" fill="#77AC30"/>
<circle cx="365.44" cy="269.04" r="2.35" fill="#77AC30"/>
<circle cx="373.81" cy="268.71" r="2.35" fill="#77AC30"/>
<circle cx="382.19" cy="268.22" r="2.35" fill="#77AC30"/>
<circle cx="390.56" cy="267.41" r="2.35" fill="#77AC30"/>
<circle cx="398.94" cy="266.44" r="2.35" fill="#77AC30"/>
<circle cx="407.31" cy="265.46" r="2.35" fill="#77AC30"/>
<circle cx="415.69" cy="264.00" r="2.35" fill="#77AC30"/>
<circle cx="424.06" cy="261.88" r="2.35" fill="#77AC30"/>
<circle cx="432.44" cy="259.44" r="2.35" fill="#77AC30"/>
<circle cx="440.81" cy="255.87" r="2.35" fill="#77AC30"/>
<circle cx="449.19" cy="250.66" r="2.35" fill="#77AC30"/>
<circle cx="457.56" cy="242.04" r="2.35" fill="#77AC30"/>
<circle cx="465.94" cy="224.97" r="2.35" fill="#77AC30"/>
<circle cx="474.31" cy="202.21" r="2.35" fill="#77AC30"/>
<circle cx="482.69" cy="171.31" r="2.35" fill="#77AC30"/>
<circle cx="491.06" cy="149.85" r="2.35" fill="#77AC30"/>
<circle cx="499.44" cy="112.45" r="2.35" fill="#77AC30"/>
<circle cx="507.81" cy="49.69" r="2.35" fill="#77AC30"/>
<circle cx="516.19" cy="33.43" r="2.35" fill="#77AC30"/>
<circle cx="524.56" cy="84.00" r="2.35" fill="#77AC30"/>
<circle cx="532.94" cy="152.78" r="2.35" fill="#77AC30"/>
<circle cx="541.31" cy="195.87" r="2.35" fill="#77AC30"/>
<circle cx="549.69" cy="220.58" r="2.35" fill="#77AC30"/>
<circle cx="558.06" cy="237.33" r="2.35" fill="#77AC30"/>
<circle cx="566.44" cy="246.92" r="2.35" fill="#77AC30"/>
<circle cx="574.81" cy="254.73" r="2.35" fill="#77AC30"/>
<circle cx="583.19" cy="257.98" r="2.35" fill="#77AC30"/>
<circle cx="591.56" cy="261.56" r="2.35" fill="#77AC30"/>
<circle cx="599.94" cy="263.67" r="2.35" fill="#77AC30"/>
<circle cx="608.31" cy="265.30" r="2.35" fill="#77AC30"/>
<circle cx="616.69" cy="266.60" r="2.35" fill="#77AC30"/>
<circle cx="625.06" cy="267.74" r="2.35" fill="#77AC30"/>
<circle cx="633.44" cy="268.39" r="2.35" fill="#77AC30"/>
<circle cx="641.81" cy="268.87" r="2.35" fill="#77AC30"/>
<circle cx="650.19" cy="269.20" r="2.35" fill="#77AC30"/>
<circle cx="658.56" cy="269.36" r="2.35" fill="#77AC30"/>
<circle cx="666.94" cy="269.52" r="2.35" fill="#77AC30"/>
<circle cx="675.31" cy="269.69" r="2.35" fill="#77AC30"/>
<rect x="344.5" y="26.6" width="335" height="243.9" fill="none" stroke="#858585" stroke-width="0.9"/>
<line x1="344.50" y1="270.5" x2="344.50" y2="267.2" stroke="#858585" stroke-width="0.8"/>
<line x1="344.50" y1="26.6" x2="344.50" y2="29.9" stroke="#858585" stroke-width="0.8"/>
<line x1="400.33" y1="270.5" x2="400.33" y2="267.2" stroke="#858585" stroke-width="0.8"/>
<line x1="400.33" y1="26.6" x2="400.33" y2="29.9" stroke="#858585" stroke-width="0.8"/>
<line x1="456.17" y1="270.5" x2="456.17" y2="267.2" stroke="#858585" stroke-width="0.8"/>
<line x1="456.17" y1="26.6" x2="456.17" y2="29.9" stroke="#858585" stroke-width="0.8"/>
<line x1="512.00" y1="270.5" x2="512.00" y2="267.2" stroke="#858585" stroke-width="0.8"/>
<line x1="512.00" y1="26.6" x2="512.00" y2="29.9" stroke="#858585" stroke-width="0.8"/>
<line x1="567.83" y1="270.5" x2="567.83" y2="267.2" stroke="#858585" stroke-width="0.8"/>
<line x1="567.83" y1="26.6" x2="567.83" y2="29.9" stroke="#858585" stroke-width="0.8"/>
<line x1="623.67" y1="270.5" x2="623.67" y2="267.2" stroke="#858585" stroke-width="0.8"/>
<line x1="623.67" y1="26.6" x2="623.67" y2="29.9" stroke="#858585" stroke-width="0.8"/>
<line x1="679.50" y1="270.5" x2="679.50" y2="267.2" stroke="#858585" stroke-width="0.8"/>
<line x1="679.50" y1="26.6" x2="679.50" y2="29.9" stroke="#858585" stroke-width="0.8"/>
<line x1="344.5" y1="270.50" x2="347.8" y2="270.50" stroke="#858585" stroke-width="0.8"/>
<line x1="679.5" y1="270.50" x2="676.2" y2="270.50" stroke="#858585" stroke-width="0.8"/>
<line x1="344.5" y1="189.20" x2="347.8" y2="189.20" stroke="#858585" stroke-width="0.8"/>
<line x1="679.5" y1="189.20" x2="676.2" y2="189.20" stroke="#858585" stroke-width="0.8"/>
<line x1="344.5" y1="107.90" x2="347.8" y2="107.90" stroke="#858585" stroke-width="0.8"/>
<line x1="679.5" y1="107.90" x2="676.2" y2="107.90" stroke="#858585" stroke-width="0.8"/>
<line x1="344.5" y1="26.60" x2="347.8" y2="26.60" stroke="#858585" stroke-width="0.8"/>
<line x1="679.5" y1="26.60" x2="676.2" y2="26.60" stroke="#858585" stroke-width="0.8"/>
<text transform="translate(344.50,283.3) scale(0.8,1)" font-size="9.25" text-anchor="middle" fill="#333">-60</text>
<text transform="translate(400.33,283.3) scale(0.8,1)" font-size="9.25" text-anchor="middle" fill="#333">-40</text>
<text transform="translate(456.17,283.3) scale(0.8,1)" font-size="9.25" text-anchor="middle" fill="#333">-20</text>
<text transform="translate(512.00,283.3) scale(0.8,1)" font-size="9.25" text-anchor="middle" fill="#333">0</text>
<text transform="translate(567.83,283.3) scale(0.8,1)" font-size="9.25" text-anchor="middle" fill="#333">20</text>
<text transform="translate(623.67,283.3) scale(0.8,1)" font-size="9.25" text-anchor="middle" fill="#333">40</text>
<text transform="translate(679.50,283.3) scale(0.8,1)" font-size="9.25" text-anchor="middle" fill="#333">60</text>
<text transform="translate(341.0,273.80) scale(0.8,1)" font-size="9.25" text-anchor="end" fill="#333">0</text>
<text transform="translate(341.0,192.50) scale(0.8,1)" font-size="9.25" text-anchor="end" fill="#333">0.05</text>
<text transform="translate(341.0,111.20) scale(0.8,1)" font-size="9.25" text-anchor="end" fill="#333">0.1</text>
<text transform="translate(341.0,29.90) scale(0.8,1)" font-size="9.25" text-anchor="end" fill="#333">0.15</text>
<text x="512.4" y="296.5" font-size="10" text-anchor="middle" fill="#262626">Difference [mGal]</text>
<text transform="translate(322.2,148.6) rotate(-90)" font-size="10.9" text-anchor="middle" fill="#262626">Probability distribution</text>
<rect x="568.5" y="34.9" width="103.8" height="55.0" fill="#fff" stroke="#7a7a7a" stroke-width="0.7"/>
<line x1="570.4" y1="40.60" x2="586.4" y2="40.60" stroke="#0072BD" stroke-width="1"/>
<circle cx="578.20" cy="40.60" r="2.2" fill="none" stroke="#0072BD" stroke-width="0.9"/>
<text transform="translate(587.7,43.80) scale(0.8,1)" font-size="9.25" fill="#111">EGM2008</text>
<line x1="570.4" y1="51.65" x2="586.4" y2="51.65" stroke="#D95319" stroke-width="1"/>
<path d="M576.50,49.55L580.50,51.65L576.50,53.75Z" fill="none" stroke="#D95319" stroke-width="0.9"/>
<text transform="translate(587.7,54.85) scale(0.8,1)" font-size="9.25" fill="#111">SatGravRET2014</text>
<line x1="570.4" y1="62.70" x2="586.4" y2="62.70" stroke="#EDB120" stroke-width="1"/>
<path d="M576.20,60.70L580.20,64.70M576.20,64.70L580.20,60.70" stroke="#EDB120" stroke-width="0.9"/>
<text transform="translate(587.7,65.90) scale(0.8,1)" font-size="9.25" fill="#111">EIGEN-6C4</text>
<line x1="570.4" y1="73.75" x2="586.4" y2="73.75" stroke="#7E2F8E" stroke-width="1"/>
<circle cx="578.20" cy="73.75" r="2.2" fill="none" stroke="#7E2F8E" stroke-width="0.9"/>
<text transform="translate(587.7,76.95) scale(0.8,1)" font-size="9.25" fill="#111">XGM2019e,Degree:2019</text>
<line x1="570.4" y1="84.80" x2="586.4" y2="84.80" stroke="#77AC30" stroke-width="1"/>
<circle cx="578.20" cy="84.80" r="2.35" fill="#77AC30"/>
<text transform="translate(587.7,88.00) scale(0.8,1)" font-size="9.25" fill="#111">XGM2019e,Degree:5540</text>
</svg></body></html>
